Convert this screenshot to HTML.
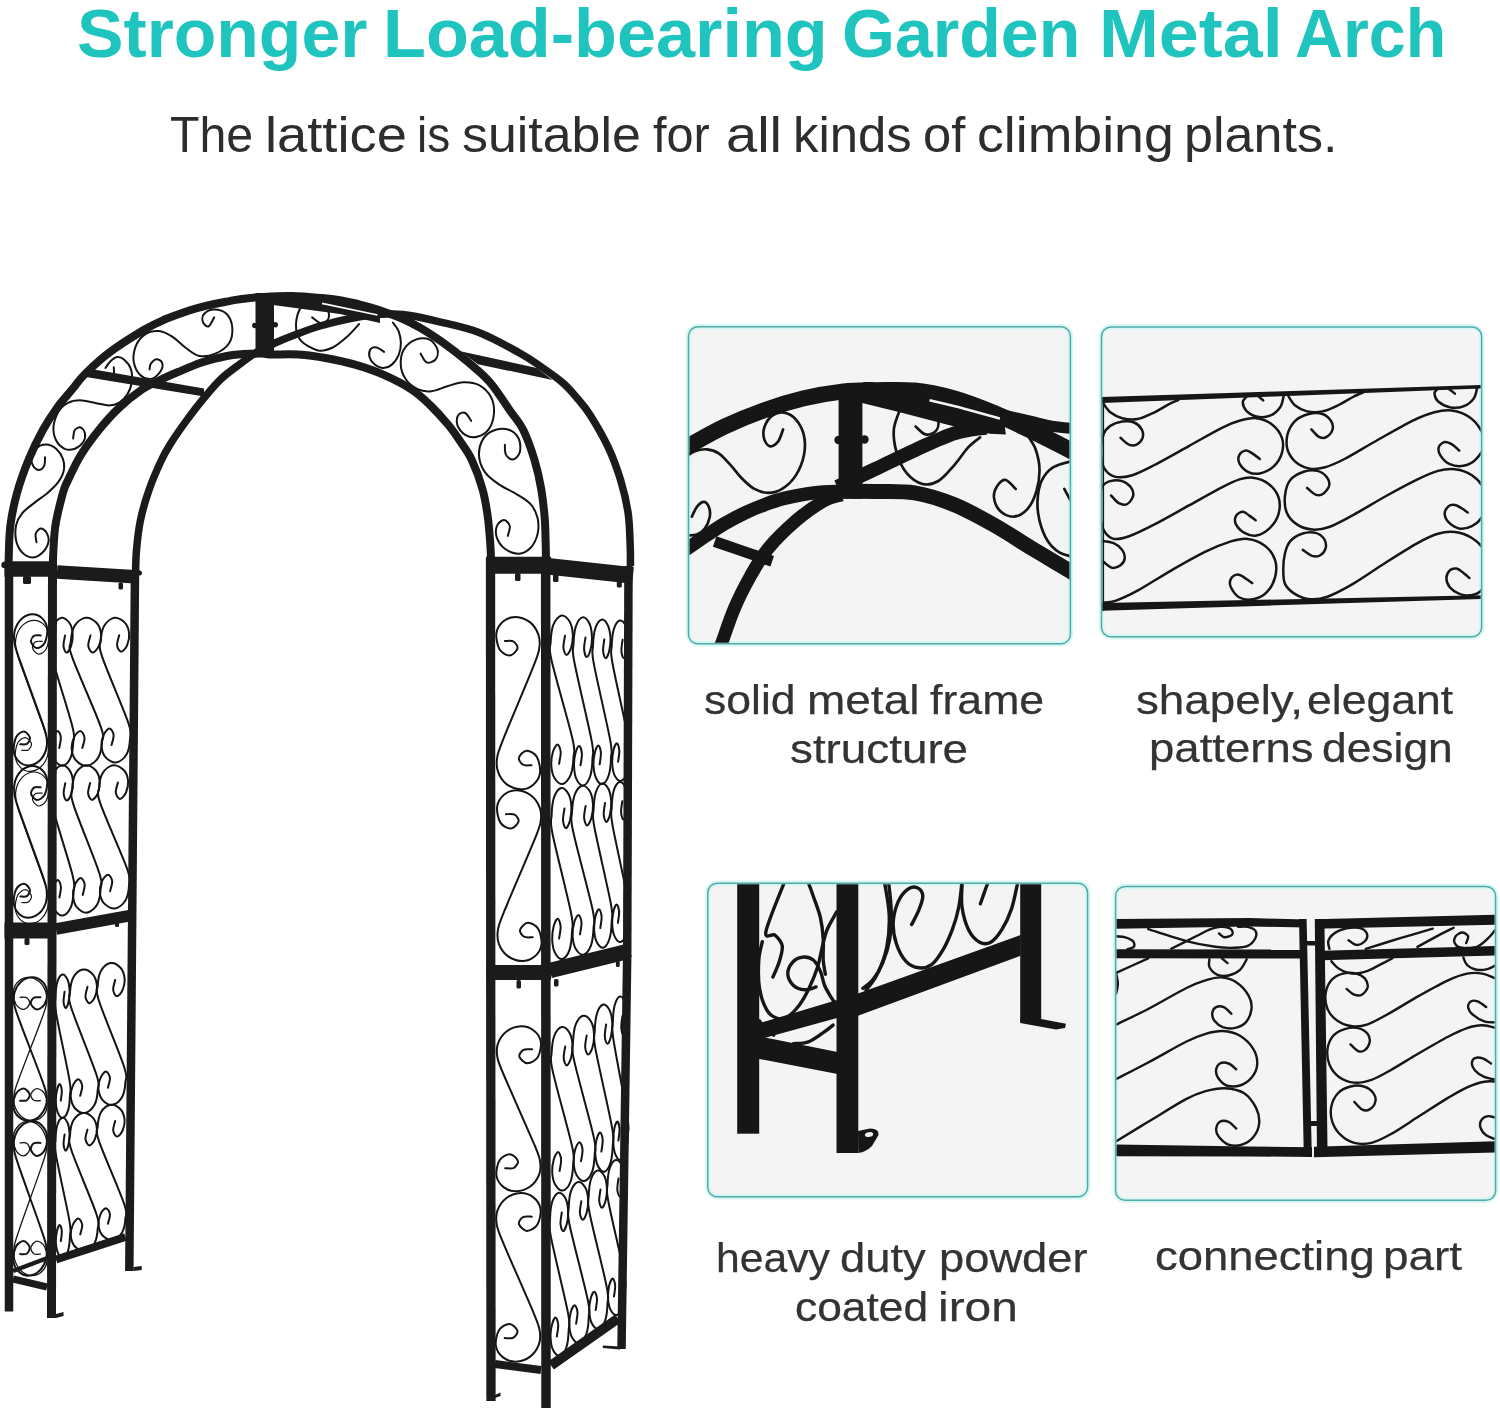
<!DOCTYPE html>
<html><head><meta charset="utf-8"><title>Garden Metal Arch</title>
<style>
html,body{margin:0;padding:0;background:#fff;}
body{width:1500px;height:1412px;position:relative;overflow:hidden;font-family:"Liberation Sans",sans-serif;}
.t{position:absolute;left:0;width:1500px;height:1em;white-space:nowrap;line-height:1;}
.t span{position:absolute;top:0;display:block;transform-origin:0 0;white-space:nowrap;}
svg{position:absolute;left:0;top:0;filter:blur(0.4px);}
</style></head><body>
<svg width="1500" height="1412" viewBox="0 0 1500 1412">
<g id="panels">
<defs><clipPath id="cp0"><rect x="689.5" y="327.8" width="379.9" height="315.0" rx="9"/></clipPath><clipPath id="cp1"><rect x="1102.5" y="328.0" width="378.1" height="307.8" rx="9"/></clipPath><clipPath id="cp2"><rect x="708.8" y="884.2" width="377.8" height="311.6" rx="9"/></clipPath><clipPath id="cp3"><rect x="1116.6" y="887.5" width="378.0" height="311.7" rx="9"/></clipPath></defs>
<rect x="688.5" y="326.8" width="381.9" height="317.0" rx="9.5" fill="#f4f4f4" stroke="#d6f7f5" stroke-width="5.5"/><rect x="688.5" y="326.8" width="381.9" height="317.0" rx="9.5" fill="none" stroke="#52aaa5" stroke-width="1.5"/><g clip-path="url(#cp0)"><path d="M716.7 655.4C717.5 653.4 718.7 651.1 721.7 643.1C724.6 635.2 729.8 619.0 734.6 607.9C739.3 596.7 744.8 586.1 750.4 576.1C756.0 566.2 760.7 557.6 768.3 548.4C775.8 539.1 786.8 528.6 796.0 520.6C805.3 512.7 816.2 505.1 823.8 500.8C831.3 496.5 838.6 495.9 841.6 494.9" fill="none" stroke="#161616" stroke-width="13.00" stroke-linecap="butt" stroke-linejoin="round" />
<path d="M837.3 486.9C843.6 484.0 862.1 475.2 875.0 469.1C887.9 463.0 901.4 456.2 914.6 450.3C927.9 444.3 942.4 437.2 954.3 433.4C966.2 429.6 980.7 428.5 986.0 427.5" fill="none" stroke="#161616" stroke-width="14.00" stroke-linecap="butt" stroke-linejoin="round" />
<path d="M673.1 455.2C675.7 453.6 680.4 450.5 689.0 445.7C697.6 440.9 712.1 432.4 724.6 426.5C737.2 420.6 751.1 414.9 764.3 410.2C777.5 405.5 790.7 401.5 803.9 398.3C817.1 395.2 832.0 392.8 843.6 391.4C855.1 390.1 868.3 390.4 873.3 390.2" fill="none" stroke="#161616" stroke-width="16.00" stroke-linecap="butt" stroke-linejoin="round" />
<path d="M863.1 390.2C865.1 390.3 866.4 390.3 875.0 390.4C883.6 390.5 901.4 389.4 914.6 390.8C927.9 392.2 941.1 395.0 954.3 398.7C967.5 402.5 980.7 407.7 993.9 413.2C1007.1 418.7 1020.9 425.7 1033.6 431.8C1046.3 438.0 1061.7 445.7 1070.2 450.3C1078.8 454.8 1082.6 457.7 1085.1 459.2" fill="none" stroke="#161616" stroke-width="16.50" stroke-linecap="butt" stroke-linejoin="round" />
<path d="M1001.9 414.6C1007.1 415.8 1025.0 420.0 1033.6 421.9C1042.2 423.9 1044.8 425.2 1053.4 426.5C1062.0 427.7 1079.8 429.0 1085.1 429.5" fill="none" stroke="#161616" stroke-width="11.00" stroke-linecap="butt" stroke-linejoin="round" />
<polygon points="861.1,391.8 928.5,396.8 1003.8,417.6 1005.8,434.4 990.0,433.8 960.2,427.9 898.8,412.0 861.1,402.7" fill="#161616"/>
<path d="M929.5 400.3C935.3 401.7 952.5 405.6 964.2 408.7C975.9 411.7 993.9 416.9 999.9 418.6" fill="none" stroke="#f4f4f4" stroke-width="2.60" stroke-linecap="butt" stroke-linejoin="round" />
<path d="M673.1 557.3C675.7 555.7 683.7 550.9 689.0 547.4C694.3 543.9 698.9 540.5 704.8 536.5C710.8 532.5 718.0 527.5 724.6 523.6C731.3 519.7 737.9 516.3 744.5 513.1C751.1 510.0 757.7 507.2 764.3 504.8C770.9 502.3 775.8 500.4 784.1 498.4C792.4 496.5 804.6 494.1 813.8 492.9C823.1 491.7 831.3 491.6 839.6 491.3C847.9 491.0 859.4 491.0 863.4 490.9" fill="none" stroke="#161616" stroke-width="13.50" stroke-linecap="butt" stroke-linejoin="round" />
<path d="M851.2 491.3C855.2 491.3 864.4 491.2 875.0 491.5C885.6 491.8 901.4 490.7 914.6 492.9C927.9 495.1 941.1 499.4 954.3 504.8C967.5 510.1 980.7 517.6 993.9 525.0C1007.1 532.4 1020.9 541.7 1033.6 549.4C1046.3 557.1 1061.7 565.9 1070.2 571.2C1078.8 576.5 1082.6 579.4 1085.1 581.1" fill="none" stroke="#161616" stroke-width="15.00" stroke-linecap="butt" stroke-linejoin="round" />
<path d="M714.7 541.5C724.3 544.8 762.6 558.0 772.2 561.3" fill="none" stroke="#161616" stroke-width="11.00" stroke-linecap="butt" stroke-linejoin="round" />
<rect x="838.6" y="385.9" width="23.8" height="113.0" fill="#161616"/>
<circle cx="838.5" cy="440" r="4.2" fill="#161616"/><circle cx="864.5" cy="439.5" r="4.2" fill="#161616"/>
<path d="M783.1 429.5C782.3 431.4 780.3 438.5 778.2 441.4C776.0 444.2 772.5 446.6 770.2 446.3C767.9 446.0 765.3 442.5 764.3 439.4C763.3 436.2 763.0 431.4 764.3 427.5C765.6 423.5 768.9 418.1 772.2 415.6C775.5 413.1 780.1 412.0 784.1 412.6C788.1 413.3 792.7 415.8 796.0 419.6C799.3 423.4 802.6 429.5 803.9 435.4C805.3 441.4 805.3 448.6 803.9 455.2C802.6 461.8 799.6 469.4 796.0 475.1C792.4 480.7 786.8 486.0 782.1 488.9C777.5 491.9 772.9 492.9 768.3 492.9C763.6 492.9 758.7 491.2 754.4 488.9C750.1 486.6 746.4 483.0 742.5 479.0C738.5 475.1 734.6 469.4 730.6 465.1C726.6 460.8 722.7 455.9 718.7 453.3C714.7 450.6 710.8 449.6 706.8 449.3C702.8 449.0 698.5 449.9 694.9 451.3C691.3 452.6 686.7 456.2 685.0 457.2" fill="none" stroke="#161616" stroke-width="2.70" stroke-linecap="round" stroke-linejoin="round" />
<path d="M691.9 516.7C692.8 515.0 694.9 509.2 696.9 506.8C698.9 504.3 701.8 501.8 703.8 501.8C705.8 501.8 707.8 504.3 708.8 506.8C709.8 509.2 710.4 513.0 709.8 516.7C709.1 520.3 707.0 525.6 704.8 528.6C702.7 531.5 700.2 533.4 696.9 534.5C693.6 535.7 687.0 535.3 685.0 535.5" fill="none" stroke="#161616" stroke-width="2.70" stroke-linecap="round" stroke-linejoin="round" />
<path d="M915.6 426.5C917.3 427.8 922.2 433.6 925.5 434.4C928.8 435.2 933.3 433.6 935.5 431.4C937.6 429.3 938.9 424.7 938.4 421.5C937.9 418.4 933.5 414.1 932.5 412.6" fill="none" stroke="#161616" stroke-width="2.70" stroke-linecap="round" stroke-linejoin="round" />
<path d="M900.8 407.7C899.6 411.3 894.5 421.9 893.8 429.5C893.2 437.1 894.7 446.0 896.8 453.3C899.0 460.5 902.4 468.0 906.7 473.1C911.0 478.2 917.3 482.7 922.6 484.0C927.9 485.3 933.1 484.1 938.4 481.0C943.7 477.9 949.3 470.8 954.3 465.1C959.2 459.5 963.9 451.9 968.2 447.3C972.5 442.7 978.1 439.0 980.1 437.4" fill="none" stroke="#161616" stroke-width="2.70" stroke-linecap="round" stroke-linejoin="round" />
<path d="M1015.7 488.9C1014.1 487.4 1008.8 480.7 1005.8 480.0C1002.8 479.3 999.9 482.2 997.9 485.0C995.9 487.8 993.6 492.6 993.9 496.9C994.3 501.2 996.6 507.4 999.9 510.7C1003.2 514.0 1009.1 517.0 1013.8 516.7C1018.4 516.3 1023.8 513.0 1027.6 508.8C1031.4 504.5 1034.6 497.5 1036.5 490.9C1038.5 484.3 1039.7 476.0 1039.5 469.1C1039.4 462.2 1037.5 454.9 1035.6 449.3C1033.6 443.7 1028.9 437.7 1027.6 435.4" fill="none" stroke="#161616" stroke-width="2.70" stroke-linecap="round" stroke-linejoin="round" />
<path d="M1075.2 460.2C1071.6 461.3 1059.0 463.7 1053.4 467.1C1047.8 470.6 1044.1 475.4 1041.5 481.0C1038.9 486.6 1037.9 494.2 1037.5 500.8C1037.2 507.4 1037.9 514.0 1039.5 520.6C1041.2 527.3 1044.1 535.2 1047.4 540.5C1050.8 545.8 1054.7 549.6 1059.3 552.4C1064.0 555.2 1072.6 556.5 1075.2 557.3" fill="none" stroke="#161616" stroke-width="2.70" stroke-linecap="round" stroke-linejoin="round" />
<path d="M1064.3 488.9C1065.5 491.1 1070.1 499.7 1071.2 501.8" fill="none" stroke="#161616" stroke-width="2.70" stroke-linecap="round" stroke-linejoin="round" /></g>
<rect x="1101.5" y="327.0" width="380.1" height="309.8" rx="9.5" fill="#f4f4f4" stroke="#d6f7f5" stroke-width="5.5"/><rect x="1101.5" y="327.0" width="380.1" height="309.8" rx="9.5" fill="none" stroke="#52aaa5" stroke-width="1.5"/><g clip-path="url(#cp1)"><polygon points="1102.0,397.1 1482.0,384.9 1482.0,388.5 1102.0,403.1" fill="#161616"/>
<polygon points="1102.0,603.0 1482.0,595.3 1482.0,598.9 1102.0,610.8" fill="#161616"/>
<line x1="1103.2" y1="397.0" x2="1103.2" y2="611.0" stroke="#161616" stroke-width="1.80" stroke-linecap="butt"/>
<path d="M1103.5 403.8C1104.6 405.2 1107.2 409.9 1110.3 412.3C1113.4 414.7 1117.7 417.1 1122.2 418.2C1126.7 419.4 1132.1 420.1 1137.5 419.1C1142.9 418.1 1149.4 414.7 1154.5 412.3C1159.6 409.9 1164.1 406.7 1168.1 404.6C1172.0 402.6 1176.6 400.8 1178.3 400.1" fill="none" stroke="#161616" stroke-width="2.50" stroke-linecap="round" stroke-linejoin="round" />
<path d="M1283.6 396.1C1283.0 398.0 1282.5 403.9 1280.2 407.2C1278.0 410.4 1274.0 414.1 1270.0 415.7C1266.1 417.2 1260.4 417.4 1256.4 416.5C1252.5 415.7 1248.5 413.0 1246.2 410.6C1244.0 408.2 1242.8 404.4 1242.8 402.1C1242.8 399.8 1245.7 397.8 1246.2 397.0" fill="none" stroke="#161616" stroke-width="2.50" stroke-linecap="round" stroke-linejoin="round" />
<path d="M1258.1 396.1C1259.0 396.9 1262.4 399.7 1263.2 400.4" fill="none" stroke="#161616" stroke-width="2.50" stroke-linecap="round" stroke-linejoin="round" />
<path d="M1120.5 437.8C1121.9 438.9 1126.3 443.4 1129.0 444.6C1131.7 445.7 1134.4 445.7 1136.6 444.6C1138.9 443.4 1141.7 440.3 1142.6 437.8C1143.4 435.2 1143.1 431.8 1141.7 429.3C1140.3 426.7 1137.3 423.8 1134.1 422.5C1130.8 421.2 1126.2 421.1 1122.2 421.6C1118.2 422.2 1113.4 423.8 1110.3 425.9C1107.2 428.0 1105.1 430.1 1103.5 434.4C1101.9 438.6 1100.8 445.7 1100.9 451.4C1101.1 457.0 1101.9 464.1 1104.3 468.4C1106.8 472.6 1110.7 475.7 1115.4 476.9C1120.1 478.0 1125.9 477.1 1132.4 475.2C1138.9 473.2 1145.1 469.8 1154.5 465.0C1163.8 460.1 1177.1 452.5 1188.5 446.3C1199.8 440.0 1213.9 431.8 1222.4 427.6C1230.9 423.3 1233.8 422.3 1239.4 420.8C1245.1 419.2 1251.0 417.7 1256.4 418.2C1261.8 418.8 1267.5 420.9 1271.7 424.2C1276.0 427.4 1280.2 433.0 1281.9 437.8C1283.6 442.6 1283.3 448.3 1281.9 453.1C1280.5 457.9 1277.1 463.3 1273.4 466.7C1269.7 470.1 1264.1 472.6 1259.8 473.5C1255.6 474.3 1251.3 473.5 1247.9 471.8C1244.5 470.1 1240.9 466.1 1239.4 463.3C1238.0 460.4 1238.3 456.9 1239.4 454.8C1240.6 452.6 1244.0 450.7 1246.2 450.5C1248.5 450.4 1250.8 452.5 1253.0 453.9C1255.3 455.3 1258.7 458.2 1259.8 459.0" fill="none" stroke="#161616" stroke-width="2.50" stroke-linecap="round" stroke-linejoin="round" />
<path d="M1111.1 495.5C1112.4 496.8 1116.1 501.8 1118.8 503.2C1121.5 504.6 1124.9 505.3 1127.3 504.0C1129.7 502.8 1132.7 498.4 1133.2 495.5C1133.8 492.7 1132.5 489.5 1130.7 487.1C1128.8 484.6 1125.6 482.1 1122.2 481.1C1118.8 480.1 1113.5 480.3 1110.3 481.1C1107.0 482.0 1104.5 483.2 1102.6 486.2C1100.8 489.2 1099.7 494.0 1099.2 498.9C1098.8 503.9 1099.2 510.6 1100.1 515.9C1100.9 521.3 1102.1 527.4 1104.3 531.2C1106.6 535.1 1109.6 538.0 1113.7 538.9C1117.8 539.7 1122.2 538.7 1129.0 536.3C1135.8 533.9 1144.6 529.5 1154.5 524.4C1164.4 519.3 1177.1 512.0 1188.5 505.7C1199.8 499.5 1213.9 491.4 1222.4 487.1C1230.9 482.7 1234.3 481.0 1239.4 479.4C1244.5 477.8 1248.2 477.0 1253.0 477.7C1257.8 478.4 1264.1 480.4 1268.3 483.7C1272.6 486.9 1276.8 492.1 1278.5 497.2C1280.2 502.3 1279.9 509.1 1278.5 514.2C1277.1 519.3 1273.7 524.3 1270.0 527.8C1266.3 531.4 1260.7 534.6 1256.4 535.5C1252.2 536.3 1247.9 534.8 1244.5 532.9C1241.1 531.1 1237.5 527.3 1236.0 524.4C1234.6 521.6 1234.9 518.1 1236.0 515.9C1237.2 513.8 1240.6 511.7 1242.8 511.7C1245.1 511.7 1247.5 514.5 1249.6 515.9C1251.8 517.4 1254.6 519.5 1255.6 520.2" fill="none" stroke="#161616" stroke-width="2.50" stroke-linecap="round" stroke-linejoin="round" />
<path d="M1100.1 540.6C1102.4 541.0 1110.0 541.6 1113.7 543.1C1117.4 544.7 1120.3 547.4 1122.2 549.9C1124.0 552.5 1125.0 555.9 1124.7 558.4C1124.5 561.0 1122.6 563.7 1120.5 565.2C1118.4 566.8 1114.8 568.3 1112.0 567.8C1109.2 567.2 1104.9 562.8 1103.5 561.8" fill="none" stroke="#161616" stroke-width="2.50" stroke-linecap="round" stroke-linejoin="round" />
<path d="M1103.5 602.6C1105.5 602.3 1109.7 602.9 1115.4 600.9C1121.1 598.9 1128.1 595.8 1137.5 590.7C1146.8 585.6 1160.1 576.8 1171.5 570.3C1182.8 563.8 1195.5 556.4 1205.5 551.6C1215.4 546.8 1223.9 543.6 1230.9 541.4C1238.0 539.3 1242.3 538.2 1247.9 538.9C1253.6 539.6 1260.4 542.1 1264.9 545.7C1269.5 549.2 1273.4 554.9 1275.1 560.1C1276.8 565.4 1276.5 571.7 1275.1 577.1C1273.7 582.5 1270.3 588.7 1266.6 592.4C1262.9 596.1 1257.6 598.4 1253.0 599.2C1248.5 600.1 1243.1 599.5 1239.4 597.5C1235.8 595.5 1232.4 590.4 1230.9 587.3C1229.5 584.2 1229.8 580.9 1230.9 578.8C1232.1 576.7 1235.2 574.6 1237.7 574.6C1240.3 574.6 1243.8 577.4 1246.2 578.8C1248.6 580.2 1251.2 582.4 1252.2 583.1" fill="none" stroke="#161616" stroke-width="2.50" stroke-linecap="round" stroke-linejoin="round" />
<path d="M1288.4 396.1C1289.5 397.7 1292.1 402.9 1295.2 405.5C1298.3 408.0 1302.6 410.4 1307.1 411.4C1311.6 412.4 1317.0 412.6 1322.4 411.4C1327.8 410.3 1334.3 407.0 1339.4 404.6C1344.5 402.2 1348.7 399.2 1353.0 397.0C1357.2 394.8 1362.9 392.5 1364.9 391.6" fill="none" stroke="#161616" stroke-width="2.50" stroke-linecap="round" stroke-linejoin="round" />
<path d="M1477.0 388.5C1476.4 390.2 1475.9 395.7 1473.6 398.7C1471.3 401.7 1467.4 404.9 1463.4 406.3C1459.5 407.8 1454.1 408.0 1449.8 407.2C1445.6 406.3 1440.5 403.5 1437.9 401.2C1435.4 399.0 1434.7 395.6 1434.5 393.6C1434.4 391.6 1436.7 390.1 1437.1 389.3" fill="none" stroke="#161616" stroke-width="2.50" stroke-linecap="round" stroke-linejoin="round" />
<path d="M1448.1 388.5C1449.3 389.3 1453.8 392.7 1454.9 393.6" fill="none" stroke="#161616" stroke-width="2.50" stroke-linecap="round" stroke-linejoin="round" />
<path d="M1311.3 429.3C1312.6 430.6 1316.4 435.6 1319.0 436.9C1321.5 438.2 1324.4 438.2 1326.6 436.9C1328.9 435.6 1331.9 432.0 1332.6 429.3C1333.3 426.6 1332.6 423.3 1330.9 420.8C1329.2 418.2 1326.1 415.1 1322.4 414.0C1318.7 412.9 1313.3 412.9 1308.8 414.0C1304.3 415.1 1298.7 417.4 1295.2 420.8C1291.7 424.2 1288.8 429.6 1287.5 434.4C1286.3 439.2 1286.3 445.1 1287.5 449.7C1288.8 454.2 1291.7 458.4 1295.2 461.6C1298.7 464.7 1304.0 467.4 1308.8 468.4C1313.6 469.4 1318.1 469.1 1324.1 467.5C1330.0 466.0 1335.4 463.7 1344.5 459.0C1353.5 454.3 1367.1 445.8 1378.5 439.5C1389.8 433.1 1403.1 425.3 1412.4 420.8C1421.8 416.3 1428.0 414.0 1434.5 412.3C1441.0 410.6 1445.9 409.9 1451.5 410.6C1457.2 411.3 1463.7 413.4 1468.5 416.5C1473.3 419.6 1477.7 424.6 1480.4 429.3C1483.1 434.0 1485.5 439.5 1484.7 444.6C1483.8 449.7 1478.9 456.3 1475.3 459.9C1471.8 463.4 1467.7 465.1 1463.4 465.8C1459.2 466.5 1453.6 465.8 1449.8 464.1C1446.0 462.4 1442.3 458.4 1440.5 455.6C1438.6 452.8 1438.1 449.4 1438.8 447.1C1439.5 444.9 1442.5 442.4 1444.7 442.0C1447.0 441.6 1450.0 443.2 1452.4 444.6C1454.8 446.0 1458.0 449.5 1459.2 450.5" fill="none" stroke="#161616" stroke-width="2.50" stroke-linecap="round" stroke-linejoin="round" />
<path d="M1307.1 487.9C1308.5 489.0 1312.9 493.7 1315.6 494.7C1318.3 495.7 1321.0 495.4 1323.2 493.8C1325.5 492.3 1328.6 488.2 1329.2 485.4C1329.7 482.5 1328.6 479.3 1326.6 476.9C1324.6 474.4 1321.1 471.8 1317.3 470.9C1313.5 470.1 1308.2 470.2 1303.7 471.8C1299.2 473.3 1293.2 476.3 1290.1 480.3C1287.0 484.2 1285.6 490.2 1285.0 495.5C1284.4 500.9 1284.7 507.7 1286.7 512.5C1288.7 517.4 1292.6 521.6 1296.9 524.4C1301.1 527.3 1306.8 529.1 1312.2 529.5C1317.6 530.0 1322.4 529.4 1329.2 527.0C1336.0 524.6 1343.3 520.3 1353.0 515.1C1362.6 509.8 1376.2 501.5 1387.0 495.5C1397.7 489.6 1409.0 483.5 1417.5 479.4C1426.0 475.3 1431.7 472.6 1437.9 470.9C1444.2 469.2 1449.3 468.5 1454.9 469.2C1460.6 469.9 1467.1 471.9 1471.9 475.2C1476.7 478.4 1481.5 483.7 1483.8 488.8C1486.1 493.8 1486.1 500.6 1485.5 505.7C1484.9 510.8 1482.7 515.9 1480.4 519.3C1478.1 522.7 1475.3 524.6 1471.9 526.1C1468.5 527.7 1463.8 529.2 1460.0 528.7C1456.2 528.1 1451.5 525.1 1449.0 522.7C1446.4 520.3 1444.9 516.9 1444.7 514.2C1444.6 511.5 1446.4 508.2 1448.1 506.6C1449.8 505.0 1452.7 504.6 1454.9 504.9C1457.2 505.2 1459.6 507.0 1461.7 508.3C1463.8 509.6 1466.7 511.8 1467.7 512.5" fill="none" stroke="#161616" stroke-width="2.50" stroke-linecap="round" stroke-linejoin="round" />
<path d="M1302.8 549.9C1304.4 550.9 1309.2 555.0 1312.2 555.9C1315.2 556.7 1318.4 556.4 1320.7 555.0C1322.9 553.6 1325.2 550.1 1325.8 547.4C1326.3 544.7 1325.8 541.3 1324.1 538.9C1322.4 536.5 1319.3 533.8 1315.6 532.9C1311.9 532.1 1306.2 532.4 1302.0 533.8C1297.7 535.2 1292.9 538.2 1290.1 541.4C1287.3 544.7 1286.1 548.8 1285.0 553.3C1283.9 557.9 1283.3 563.5 1283.3 568.6C1283.3 573.7 1283.0 579.7 1285.0 583.9C1287.0 588.2 1290.9 591.6 1295.2 594.1C1299.4 596.7 1305.1 598.8 1310.5 599.2C1315.9 599.6 1320.4 599.2 1327.5 596.7C1334.6 594.1 1343.1 589.7 1353.0 583.9C1362.9 578.1 1376.2 568.6 1387.0 561.8C1397.7 555.0 1409.0 547.8 1417.5 543.1C1426.0 538.5 1431.7 535.6 1437.9 533.8C1444.2 531.9 1449.3 531.4 1454.9 532.1C1460.6 532.8 1467.1 535.1 1471.9 538.0C1476.7 541.0 1481.3 545.1 1483.8 549.9C1486.4 554.7 1487.5 560.4 1487.2 566.9C1486.9 573.4 1484.7 584.3 1482.1 589.0C1479.6 593.7 1475.6 594.1 1471.9 595.0C1468.2 595.8 1463.7 595.4 1460.0 594.1C1456.3 592.8 1452.1 590.0 1449.8 587.3C1447.6 584.6 1446.4 580.8 1446.4 578.0C1446.4 575.1 1448.1 571.9 1449.8 570.3C1451.5 568.8 1454.4 568.2 1456.6 568.6C1458.9 569.0 1461.3 571.3 1463.4 572.9C1465.5 574.4 1468.4 577.1 1469.4 578.0" fill="none" stroke="#161616" stroke-width="2.50" stroke-linecap="round" stroke-linejoin="round" /></g>
<rect x="707.8" y="883.2" width="379.8" height="313.6" rx="9.5" fill="#f4f4f4" stroke="#d6f7f5" stroke-width="5.5"/><rect x="707.8" y="883.2" width="379.8" height="313.6" rx="9.5" fill="none" stroke="#52aaa5" stroke-width="1.5"/><g clip-path="url(#cp2)"><path d="M785.0 880.7C781.8 889.2 767.5 922.6 765.9 931.7C764.2 940.7 772.4 932.8 775.1 935.2C777.8 937.6 781.4 941.5 782.2 945.8C782.9 950.2 780.9 956.2 779.3 961.4C777.8 966.6 774.0 974.4 772.9 977.0" fill="none" stroke="#161616" stroke-width="3.40" stroke-linecap="round" stroke-linejoin="round" />
<path d="M762.3 941.6C761.7 944.6 759.3 952.2 758.8 960.0C758.3 967.8 758.2 980.1 759.5 988.3C760.8 996.6 763.7 1004.6 766.6 1009.6C769.4 1014.5 772.9 1016.9 776.5 1018.1C780.0 1019.2 784.0 1018.8 787.8 1016.6C791.6 1014.5 795.6 1010.0 799.2 1005.3C802.7 1000.6 806.0 994.7 809.1 988.3C812.1 981.9 815.2 974.6 817.6 967.1C819.9 959.5 821.6 949.4 823.2 943.0C824.9 936.6 825.2 934.0 827.5 928.8C829.7 923.6 835.2 914.7 836.7 911.8" fill="none" stroke="#161616" stroke-width="3.40" stroke-linecap="round" stroke-linejoin="round" />
<path d="M816.1 986.9C814.3 987.4 808.6 990.0 804.8 989.7C801.0 989.5 796.3 988.1 793.5 985.5C790.7 982.9 788.1 977.9 787.8 974.2C787.6 970.4 789.7 965.7 792.1 962.8C794.4 960.0 798.4 957.6 802.0 957.2C805.5 956.7 810.2 957.6 813.3 960.0C816.4 962.3 818.5 967.1 820.4 971.3C822.3 975.6 822.8 981.0 824.6 985.5C826.5 990.0 829.6 994.7 831.7 998.2C833.9 1001.8 836.4 1005.3 837.4 1006.7" fill="none" stroke="#161616" stroke-width="3.40" stroke-linecap="round" stroke-linejoin="round" />
<path d="M807.6 880.7C808.6 883.3 811.2 890.1 813.3 896.2C815.4 902.4 818.7 910.4 820.4 917.5C822.0 924.6 822.8 931.7 823.2 938.7C823.7 945.8 822.9 954.1 823.2 960.0C823.6 965.9 825.0 971.8 825.4 974.2" fill="none" stroke="#161616" stroke-width="3.40" stroke-linecap="round" stroke-linejoin="round" />
<path d="M759.5 1020.9C760.7 1022.5 764.2 1028.4 766.6 1030.8C768.9 1033.2 772.5 1034.3 773.7 1035.1" fill="none" stroke="#161616" stroke-width="3.40" stroke-linecap="round" stroke-linejoin="round" />
<path d="M793.5 1043.6C795.8 1043.3 802.9 1043.8 807.6 1042.1C812.4 1040.5 817.6 1036.5 821.8 1033.6C826.1 1030.8 831.3 1026.6 833.1 1025.1" fill="none" stroke="#161616" stroke-width="3.40" stroke-linecap="round" stroke-linejoin="round" />
<path d="M888.4 880.7C888.9 885.6 891.0 900.7 891.2 910.4C891.5 920.1 891.2 930.0 889.8 938.7C888.4 947.5 885.6 956.0 882.7 962.8C879.9 969.7 876.1 975.6 872.8 979.8C869.5 984.1 864.5 986.9 862.9 988.3" fill="none" stroke="#161616" stroke-width="3.40" stroke-linecap="round" stroke-linejoin="round" />
<path d="M884.4 881.4C885.2 887.0 888.8 904.1 889.2 915.0C889.6 925.9 888.8 937.1 886.8 947.0C884.8 956.9 880.7 967.0 877.2 974.2C873.7 981.4 867.9 987.5 866.0 990.2" fill="none" stroke="#161616" stroke-width="3.40" stroke-linecap="round" stroke-linejoin="round" />
<path d="M911.6 924.6C912.8 922.2 916.9 915.0 918.8 910.2C920.7 905.4 923.1 899.5 922.8 895.8C922.5 892.1 919.7 888.9 917.2 887.8C914.7 886.7 910.8 887.0 907.6 889.4C904.4 891.8 900.4 896.6 898.0 902.2C895.6 907.8 893.5 916.1 893.2 923.0C892.9 929.9 894.3 937.4 896.4 943.8C898.5 950.2 902.3 957.4 906.0 961.4C909.7 965.4 914.5 967.3 918.8 967.8C923.1 968.3 927.6 967.5 931.6 964.6C935.6 961.7 939.3 956.1 942.8 950.2C946.3 944.3 949.7 936.6 952.4 929.4C955.1 922.2 957.2 915.0 958.8 907.0C960.4 899.0 961.5 885.7 962.0 881.4" fill="none" stroke="#161616" stroke-width="3.40" stroke-linecap="round" stroke-linejoin="round" />
<path d="M980.4 903.8C981.3 901.1 984.7 891.5 986.0 887.8C987.3 884.1 988.0 882.5 988.4 881.4" fill="none" stroke="#161616" stroke-width="3.40" stroke-linecap="round" stroke-linejoin="round" />
<path d="M962.0 884.9C962.0 888.6 960.9 899.6 962.0 907.0C963.1 914.4 965.5 923.5 968.4 929.4C971.3 935.3 975.9 940.1 979.6 942.2C983.3 944.3 987.1 944.3 990.8 942.2C994.5 940.1 998.5 935.0 1002.0 929.4C1005.5 923.8 1008.9 916.6 1011.6 908.6C1014.3 900.6 1016.9 885.9 1018.0 881.4" fill="none" stroke="#161616" stroke-width="3.40" stroke-linecap="round" stroke-linejoin="round" />
<polygon points="757.0,1024.0 837.0,1000.0 837.0,1018.0 757.0,1040.0" fill="#161616"/>
<polygon points="757.0,1036.0 837.5,1052.0 837.5,1074.0 757.0,1058.5" fill="#161616"/>
<polygon points="858.0,993.4 1020.6,935.0 1020.6,955.8 858.0,1015.8" fill="#161616"/>
<rect x="737.2" y="870" width="22" height="263.7" fill="#161616"/>
<rect x="836.5" y="870" width="21.8" height="283" fill="#161616"/>
<rect x="1020.2" y="870" width="21" height="151" fill="#161616"/>
<polygon points="1020.2,1019.0 1041.2,1019.0 1066.0,1023.8 1065.0,1028.0 1056.0,1029.6 1020.2,1023.0" fill="#161616"/>
<path d="M858 1131 L870 1128.5 Q879.5 1128.5 878.5 1135 L872 1146 Q866 1152 858.3 1153 Z" fill="#161616"/>
<ellipse cx="869" cy="1134.5" rx="4.2" ry="2.4" fill="#f4f4f4" transform="rotate(-12 869 1134.5)"/></g>
<rect x="1115.6" y="886.5" width="380.0" height="313.7" rx="9.5" fill="#f4f4f4" stroke="#d6f7f5" stroke-width="5.5"/><rect x="1115.6" y="886.5" width="380.0" height="313.7" rx="9.5" fill="none" stroke="#52aaa5" stroke-width="1.5"/><g clip-path="url(#cp3)"><polygon points="1116.0,919.0 1250.0,918.0 1306.0,919.5 1306.0,927.5 1250.0,926.5 1116.0,928.7" fill="#161616"/>
<polygon points="1116.0,949.3 1302.0,949.5 1302.0,958.5 1116.0,958.3" fill="#161616"/>
<polygon points="1116.0,1144.4 1250.0,1146.5 1312.0,1147.2 1312.0,1157.0 1250.0,1156.4 1116.0,1156.2" fill="#161616"/>
<polygon points="1315.0,919.2 1496.0,914.8 1496.0,924.8 1315.0,928.7" fill="#161616"/>
<polygon points="1322.0,950.7 1496.0,945.9 1496.0,955.4 1322.0,960.2" fill="#161616"/>
<polygon points="1314.0,1146.7 1496.0,1141.3 1496.0,1152.4 1314.0,1157.2" fill="#161616"/>
<polygon points="1299.0,919.0 1306.6,919.0 1311.8,1155.0 1303.8,1155.0" fill="#161616"/>
<polygon points="1314.8,919.0 1324.4,919.0 1327.6,1155.0 1317.0,1155.0" fill="#161616"/>
<line x1="1306.0" y1="943.2" x2="1316.0" y2="943.2" stroke="#161616" stroke-width="4.50" stroke-linecap="butt"/>
<line x1="1309.0" y1="1123.5" x2="1318.0" y2="1123.5" stroke="#161616" stroke-width="5.00" stroke-linecap="butt"/>
<path d="M1116.7 972.7C1122.0 970.3 1143.0 960.7 1148.2 958.3" fill="none" stroke="#161616" stroke-width="2.40" stroke-linecap="round" stroke-linejoin="round" />
<path d="M1209.4 959.3C1209.4 960.5 1208.2 964.4 1209.4 966.9C1210.7 969.5 1213.9 973.1 1217.1 974.6C1220.3 976.0 1224.7 976.3 1228.5 975.5C1232.4 974.7 1237.0 972.5 1240.0 969.8C1243.0 967.1 1245.6 961.0 1246.7 959.3" fill="none" stroke="#161616" stroke-width="2.40" stroke-linecap="round" stroke-linejoin="round" />
<path d="M1221.9 958.3C1222.8 959.1 1226.6 962.3 1227.6 963.1" fill="none" stroke="#161616" stroke-width="2.40" stroke-linecap="round" stroke-linejoin="round" />
<path d="M1110.0 1027.7C1111.1 1027.2 1110.3 1027.4 1116.7 1024.3C1123.1 1021.2 1136.6 1015.0 1148.2 1009.0C1159.9 1002.9 1176.9 992.7 1186.5 988.0C1196.0 983.2 1199.9 982.1 1205.6 980.3C1211.3 978.6 1215.8 977.1 1220.9 977.4C1226.0 977.8 1231.6 979.2 1236.2 982.2C1240.8 985.2 1246.1 991.1 1248.6 995.6C1251.2 1000.1 1252.0 1004.5 1251.5 1009.0C1251.0 1013.4 1248.6 1019.2 1245.8 1022.4C1242.9 1025.6 1238.1 1027.3 1234.3 1028.1C1230.5 1028.9 1226.2 1028.4 1222.8 1027.2C1219.5 1025.9 1216.0 1022.8 1214.2 1020.5C1212.5 1018.1 1212.0 1015.0 1212.3 1012.8C1212.6 1010.6 1214.2 1008.0 1216.1 1007.1C1218.0 1006.1 1221.2 1006.0 1223.8 1007.1C1226.3 1008.2 1230.1 1012.7 1231.4 1013.8" fill="none" stroke="#161616" stroke-width="2.40" stroke-linecap="round" stroke-linejoin="round" />
<path d="M1110.0 1082.2C1111.1 1081.6 1110.3 1082.1 1116.7 1078.8C1123.1 1075.5 1136.6 1068.7 1148.2 1062.5C1159.9 1056.3 1176.9 1046.3 1186.5 1041.5C1196.0 1036.7 1199.5 1035.6 1205.6 1033.8C1211.7 1032.1 1217.1 1030.7 1222.8 1031.0C1228.5 1031.3 1234.9 1032.7 1240.0 1035.8C1245.1 1038.8 1250.5 1044.4 1253.4 1049.1C1256.3 1053.9 1257.5 1059.7 1257.2 1064.4C1256.9 1069.2 1254.4 1074.3 1251.5 1077.8C1248.6 1081.3 1244.2 1084.2 1240.0 1085.5C1235.9 1086.7 1230.3 1086.7 1226.6 1085.5C1223.0 1084.2 1219.8 1080.4 1218.0 1077.8C1216.3 1075.3 1215.8 1072.6 1216.1 1070.2C1216.4 1067.8 1217.9 1064.6 1219.9 1063.5C1222.0 1062.4 1225.8 1062.5 1228.5 1063.5C1231.3 1064.4 1234.9 1068.3 1236.2 1069.2" fill="none" stroke="#161616" stroke-width="2.40" stroke-linecap="round" stroke-linejoin="round" />
<path d="M1110.0 1145.1C1111.1 1144.4 1110.3 1144.8 1116.7 1140.9C1123.1 1137.0 1136.6 1128.8 1148.2 1121.8C1159.9 1114.8 1176.9 1104.0 1186.5 1098.9C1196.0 1093.8 1199.2 1093.0 1205.6 1091.2C1212.0 1089.5 1218.3 1088.0 1224.7 1088.3C1231.1 1088.7 1238.6 1089.8 1243.8 1093.1C1249.1 1096.5 1253.7 1103.3 1256.3 1108.4C1258.8 1113.5 1259.6 1118.9 1259.1 1123.7C1258.7 1128.5 1256.3 1133.6 1253.4 1137.1C1250.5 1140.6 1246.1 1143.5 1241.9 1144.7C1237.8 1146.0 1232.4 1146.0 1228.5 1144.7C1224.7 1143.5 1221.1 1139.6 1219.0 1137.1C1216.9 1134.5 1216.0 1132.0 1216.1 1129.4C1216.3 1126.9 1217.9 1123.1 1219.9 1121.8C1222.0 1120.5 1225.8 1120.7 1228.5 1121.8C1231.3 1122.9 1234.9 1127.4 1236.2 1128.5" fill="none" stroke="#161616" stroke-width="2.40" stroke-linecap="round" stroke-linejoin="round" />
<path d="M1148.2 929.1C1154.6 931.1 1175.3 938.1 1186.5 941.1C1197.6 944.1 1207.2 945.7 1215.2 946.8C1223.1 948.0 1228.9 948.0 1234.3 947.8C1239.7 947.6 1244.2 947.5 1247.7 945.9C1251.2 944.3 1254.0 940.8 1255.3 938.2C1256.6 935.7 1256.6 932.5 1255.3 930.6C1254.0 928.7 1250.5 927.4 1247.7 926.8C1244.8 926.1 1239.7 926.8 1238.1 926.8" fill="none" stroke="#161616" stroke-width="2.40" stroke-linecap="round" stroke-linejoin="round" />
<path d="M1171.2 948.8C1175.3 946.7 1189.7 939.5 1196.0 936.3C1202.4 933.1 1205.3 931.2 1209.4 929.6C1213.6 928.0 1217.4 926.9 1220.9 926.8C1224.4 926.6 1228.5 927.4 1230.5 928.7C1232.4 930.0 1233.3 933.0 1232.4 934.4C1231.4 935.9 1227.0 937.4 1224.7 937.3C1222.5 937.1 1219.9 934.1 1219.0 933.5" fill="none" stroke="#161616" stroke-width="2.40" stroke-linecap="round" stroke-linejoin="round" />
<path d="M1116.7 936.3C1118.1 936.5 1122.6 936.5 1125.3 937.3C1128.0 938.1 1131.5 939.5 1132.9 941.1C1134.4 942.7 1134.9 945.5 1133.9 946.8C1132.9 948.2 1128.3 948.9 1127.2 949.3" fill="none" stroke="#161616" stroke-width="2.40" stroke-linecap="round" stroke-linejoin="round" />
<path d="M1115.7 972.7C1116.1 974.6 1117.6 980.6 1117.6 984.1C1117.6 987.6 1116.1 992.1 1115.7 993.7" fill="none" stroke="#161616" stroke-width="3.00" stroke-linecap="round" stroke-linejoin="round" />
<path d="M1331.3 961.2C1332.6 962.5 1335.5 966.8 1339.0 968.8C1342.5 970.9 1347.6 973.3 1352.4 973.6C1357.2 973.9 1362.9 972.4 1367.7 970.8C1372.5 969.2 1376.9 966.1 1381.1 964.1C1385.2 962.0 1390.6 959.3 1392.5 958.3" fill="none" stroke="#161616" stroke-width="2.40" stroke-linecap="round" stroke-linejoin="round" />
<path d="M1463.3 957.4C1463.9 958.6 1464.9 963.0 1467.1 965.0C1469.3 967.1 1473.2 969.2 1476.7 969.8C1480.2 970.4 1484.6 969.8 1488.2 968.8C1491.7 967.9 1496.1 964.9 1497.7 964.1" fill="none" stroke="#161616" stroke-width="2.40" stroke-linecap="round" stroke-linejoin="round" />
<path d="M1346.6 988.9C1347.9 989.9 1351.7 993.7 1354.3 994.7C1356.8 995.6 1359.7 995.9 1361.9 994.7C1364.2 993.4 1367.2 989.7 1367.7 987.0C1368.1 984.3 1366.7 980.6 1364.8 978.4C1362.9 976.2 1359.9 974.4 1356.2 973.6C1352.5 972.8 1347.0 972.5 1342.8 973.6C1338.7 974.7 1334.2 977.0 1331.3 980.3C1328.5 983.7 1326.2 988.9 1325.6 993.7C1325.0 998.5 1325.6 1004.5 1327.5 1009.0C1329.4 1013.5 1332.9 1017.6 1337.1 1020.5C1341.2 1023.4 1347.3 1025.6 1352.4 1026.2C1357.5 1026.9 1361.9 1026.2 1367.7 1024.3C1373.4 1022.4 1378.2 1019.5 1386.8 1014.7C1395.4 1010.0 1409.1 1001.4 1419.3 995.6C1429.5 989.9 1440.0 984.0 1448.0 980.3C1456.0 976.7 1461.4 974.7 1467.1 973.6C1472.9 972.5 1477.3 972.7 1482.4 973.6C1487.5 974.6 1495.2 978.4 1497.7 979.4" fill="none" stroke="#161616" stroke-width="2.40" stroke-linecap="round" stroke-linejoin="round" />
<path d="M1497.7 1022.4C1495.5 1022.2 1488.5 1022.7 1484.3 1021.4C1480.2 1020.2 1475.6 1017.1 1472.9 1014.7C1470.1 1012.4 1468.4 1009.3 1468.1 1007.1C1467.8 1004.9 1469.3 1002.3 1470.9 1001.4C1472.5 1000.4 1475.1 1000.4 1477.6 1001.4C1480.2 1002.3 1484.8 1006.1 1486.2 1007.1" fill="none" stroke="#161616" stroke-width="2.40" stroke-linecap="round" stroke-linejoin="round" />
<path d="M1350.5 1044.4C1351.7 1045.5 1355.7 1050.1 1358.1 1051.1C1360.5 1052.0 1362.9 1051.6 1364.8 1050.1C1366.7 1048.7 1369.1 1045.2 1369.6 1042.5C1370.1 1039.8 1369.6 1036.3 1367.7 1033.9C1365.8 1031.5 1361.9 1028.9 1358.1 1028.1C1354.3 1027.3 1348.9 1027.8 1344.7 1029.1C1340.6 1030.4 1336.1 1032.4 1333.2 1035.8C1330.4 1039.1 1328.1 1044.4 1327.5 1049.2C1326.9 1053.9 1327.5 1059.8 1329.4 1064.5C1331.3 1069.1 1334.8 1073.9 1339.0 1076.9C1343.1 1079.9 1348.9 1082.2 1354.3 1082.6C1359.7 1083.1 1365.4 1081.8 1371.5 1079.8C1377.6 1077.7 1382.7 1074.7 1390.6 1070.2C1398.6 1065.7 1409.7 1058.6 1419.3 1053.0C1428.9 1047.4 1440.0 1040.9 1448.0 1036.7C1456.0 1032.6 1461.4 1030.0 1467.1 1028.1C1472.9 1026.2 1477.3 1025.2 1482.4 1025.3C1487.5 1025.3 1495.2 1028.0 1497.7 1028.5" fill="none" stroke="#161616" stroke-width="2.40" stroke-linecap="round" stroke-linejoin="round" />
<path d="M1497.7 1080.1C1495.5 1079.6 1488.2 1078.6 1484.3 1076.9C1480.5 1075.2 1476.8 1072.6 1474.8 1070.2C1472.7 1067.8 1471.7 1064.6 1471.9 1062.6C1472.1 1060.5 1473.8 1058.4 1475.7 1057.8C1477.6 1057.1 1480.8 1057.8 1483.4 1058.7C1485.9 1059.7 1489.7 1062.7 1491.0 1063.5" fill="none" stroke="#161616" stroke-width="2.40" stroke-linecap="round" stroke-linejoin="round" />
<path d="M1354.3 1101.8C1355.6 1103.0 1359.4 1108.1 1361.9 1109.4C1364.5 1110.7 1367.4 1110.7 1369.6 1109.4C1371.8 1108.1 1374.7 1104.5 1375.3 1101.8C1376.0 1099.1 1375.3 1095.7 1373.4 1093.2C1371.5 1090.6 1367.7 1087.6 1363.8 1086.5C1360.0 1085.3 1354.8 1085.3 1350.5 1086.5C1346.2 1087.6 1341.2 1089.8 1338.0 1093.2C1334.8 1096.5 1332.3 1101.8 1331.3 1106.5C1330.4 1111.3 1330.7 1117.1 1332.3 1121.8C1333.9 1126.6 1337.2 1131.7 1340.9 1135.2C1344.6 1138.7 1349.2 1141.6 1354.3 1142.9C1359.4 1144.2 1365.4 1144.3 1371.5 1142.9C1377.6 1141.4 1382.7 1138.7 1390.6 1134.3C1398.6 1129.8 1409.7 1122.2 1419.3 1116.1C1428.9 1110.0 1440.0 1102.7 1448.0 1097.9C1456.0 1093.2 1461.1 1090.1 1467.1 1087.4C1473.2 1084.7 1479.2 1082.6 1484.3 1081.7C1489.4 1080.7 1495.5 1081.7 1497.7 1081.7" fill="none" stroke="#161616" stroke-width="2.40" stroke-linecap="round" stroke-linejoin="round" />
<path d="M1497.7 1140.0C1495.8 1139.2 1489.1 1137.3 1486.2 1135.2C1483.4 1133.2 1481.3 1130.1 1480.5 1127.6C1479.7 1125.0 1480.2 1121.8 1481.5 1119.9C1482.7 1118.0 1485.4 1116.4 1488.2 1116.1C1490.9 1115.8 1496.1 1118.0 1497.7 1118.4" fill="none" stroke="#161616" stroke-width="2.40" stroke-linecap="round" stroke-linejoin="round" />
<path d="M1348.5 940.2C1349.8 941.0 1353.6 944.6 1356.2 944.9C1358.7 945.3 1362.0 943.7 1363.8 942.1C1365.7 940.5 1367.6 937.6 1367.3 935.4C1367.0 933.1 1364.7 930.0 1361.9 928.7C1359.1 927.4 1354.6 927.3 1350.5 927.7C1346.3 928.2 1340.7 929.5 1337.1 931.6C1333.4 933.6 1329.7 937.3 1328.5 940.2C1327.2 943.0 1329.3 947.3 1329.4 948.8" fill="none" stroke="#161616" stroke-width="2.40" stroke-linecap="round" stroke-linejoin="round" />
<path d="M1365.8 948.8C1371.5 947.0 1389.0 941.6 1400.2 938.2C1411.3 934.9 1427.3 930.3 1432.7 928.7" fill="none" stroke="#161616" stroke-width="2.40" stroke-linecap="round" stroke-linejoin="round" />
<path d="M1417.4 946.9C1421.2 944.8 1434.3 937.6 1440.3 934.4C1446.4 931.2 1451.5 928.8 1453.7 927.7" fill="none" stroke="#161616" stroke-width="2.40" stroke-linecap="round" stroke-linejoin="round" />
<path d="M1466.2 943.0C1466.5 941.9 1468.7 938.1 1468.1 936.3C1467.4 934.6 1464.4 932.5 1462.3 932.5C1460.3 932.5 1456.9 934.6 1455.6 936.3C1454.4 938.1 1453.7 941.1 1454.7 943.0C1455.6 944.9 1457.7 947.2 1461.4 947.8C1465.0 948.4 1472.2 948.4 1476.7 946.9C1481.1 945.3 1484.6 941.6 1488.2 938.2C1491.7 934.9 1496.1 928.7 1497.7 926.8" fill="none" stroke="#161616" stroke-width="2.40" stroke-linecap="round" stroke-linejoin="round" /></g>
</g>
<g id="scrolls">
<path d="M565.0 635.7C564.8 637.7 563.2 644.3 563.4 647.5C563.7 650.7 565.3 655.1 566.6 655.1C567.9 655.1 570.2 651.0 571.2 647.5C572.2 644.0 573.1 638.4 572.8 634.0C572.5 629.7 571.5 624.5 569.6 621.4C567.7 618.3 564.1 614.9 561.4 615.5C558.7 616.1 555.1 620.3 553.3 624.8C551.6 629.3 550.9 636.4 550.6 642.5C550.3 648.5 548.1 645.0 551.7 661.0C555.4 677.0 568.7 722.5 572.4 738.5C576.0 754.5 573.8 751.0 573.5 757.0C573.2 763.1 572.5 770.2 570.8 774.7C569.0 779.2 565.4 783.4 562.7 784.0C560.0 784.6 556.4 781.2 554.5 778.1C552.6 775.0 551.6 769.8 551.3 765.5C551.0 761.1 551.9 755.5 552.9 752.0C553.9 748.5 556.2 744.4 557.5 744.4C558.8 744.4 560.4 748.8 560.7 752.0C560.9 755.2 559.3 761.8 559.1 763.8" fill="none" stroke="#141414" stroke-width="2.00" stroke-linecap="round" stroke-linejoin="round" />
<path d="M585.5 637.6C585.2 639.5 583.9 646.1 584.1 649.3C584.4 652.6 585.7 656.9 586.8 656.9C587.9 656.9 589.7 652.8 590.6 649.3C591.5 645.8 592.2 640.2 591.9 635.9C591.7 631.5 590.9 626.4 589.3 623.3C587.7 620.2 584.7 616.8 582.4 617.4C580.2 618.0 577.3 622.2 575.8 626.6C574.3 631.1 573.7 638.3 573.5 644.3C573.3 650.3 571.4 646.8 574.5 662.8C577.5 678.8 588.5 724.1 591.5 740.1C594.6 756.1 592.7 752.6 592.5 758.6C592.3 764.6 591.7 771.8 590.2 776.3C588.7 780.7 585.8 784.9 583.6 785.5C581.3 786.1 578.3 782.7 576.7 779.6C575.1 776.5 574.3 771.4 574.1 767.0C573.8 762.7 574.5 757.1 575.4 753.6C576.3 750.1 578.1 746.0 579.2 746.0C580.3 746.0 581.6 750.3 581.9 753.6C582.1 756.8 580.8 763.4 580.5 765.3" fill="none" stroke="#141414" stroke-width="2.00" stroke-linecap="round" stroke-linejoin="round" />
<path d="M604.3 639.4C604.1 641.3 602.9 647.8 603.1 650.9C603.3 654.1 604.6 658.3 605.6 658.3C606.6 658.3 608.4 654.3 609.2 650.9C610.0 647.5 610.7 642.0 610.5 637.8C610.2 633.5 609.4 628.5 607.9 625.5C606.4 622.4 603.6 619.2 601.5 619.7C599.3 620.2 596.6 624.4 595.2 628.7C593.8 633.1 593.2 640.1 593.0 646.0C592.8 651.9 591.0 648.5 593.9 664.1C596.8 679.7 607.2 724.0 610.1 739.6C613.0 755.2 611.2 751.8 611.0 757.7C610.8 763.6 610.2 770.6 608.8 775.0C607.4 779.3 604.7 783.5 602.5 784.0C600.4 784.5 597.6 781.3 596.1 778.2C594.6 775.2 593.8 770.2 593.5 765.9C593.3 761.7 594.0 756.2 594.8 752.8C595.6 749.4 597.4 745.4 598.4 745.4C599.4 745.4 600.7 749.6 600.9 752.8C601.1 755.9 599.9 762.4 599.7 764.3" fill="none" stroke="#141414" stroke-width="2.00" stroke-linecap="round" stroke-linejoin="round" />
<path d="M622.6 639.8C622.4 641.6 621.2 647.9 621.4 651.0C621.6 654.1 622.8 658.2 623.8 658.2C624.8 658.2 626.5 654.3 627.3 651.0C628.0 647.7 628.7 642.3 628.5 638.2C628.3 634.0 627.5 629.1 626.1 626.1C624.6 623.2 621.9 620.0 619.8 620.5C617.8 621.0 615.1 625.0 613.8 629.3C612.4 633.6 611.9 640.4 611.7 646.2C611.5 651.9 609.8 648.6 612.6 663.8C615.3 679.1 625.4 722.4 628.1 737.7C630.9 752.9 629.2 749.6 629.0 755.3C628.8 761.1 628.3 767.9 626.9 772.2C625.6 776.5 622.9 780.5 620.9 781.0C618.8 781.5 616.1 778.3 614.6 775.4C613.2 772.4 612.4 767.5 612.2 763.3C612.0 759.2 612.7 753.8 613.4 750.5C614.2 747.2 615.9 743.3 616.9 743.3C617.9 743.3 619.1 747.4 619.3 750.5C619.5 753.6 618.3 759.9 618.1 761.7" fill="none" stroke="#141414" stroke-width="2.00" stroke-linecap="round" stroke-linejoin="round" />
<path d="M564.5 808.5C564.2 810.5 562.8 817.2 563.0 820.5C563.3 823.8 564.7 828.2 565.9 828.2C567.0 828.2 569.0 824.1 570.0 820.5C570.9 816.9 571.6 811.2 571.4 806.8C571.2 802.4 570.2 797.1 568.5 794.0C566.8 790.9 563.6 787.4 561.2 788.0C558.8 788.6 555.6 792.8 554.0 797.4C552.5 802.0 551.8 809.2 551.6 815.4C551.4 821.5 549.4 817.9 552.6 834.2C555.9 850.4 567.8 896.6 571.0 912.8C574.2 929.1 572.2 925.5 572.0 931.6C571.8 937.8 571.1 945.0 569.6 949.6C568.0 954.2 564.8 958.4 562.4 959.0C560.0 959.6 556.8 956.1 555.1 953.0C553.4 949.9 552.5 944.6 552.2 940.2C552.0 935.8 552.7 930.1 553.6 926.5C554.6 922.9 556.6 918.8 557.7 918.8C558.9 918.8 560.3 923.2 560.6 926.5C560.8 929.8 559.4 936.5 559.1 938.5" fill="none" stroke="#141414" stroke-width="2.00" stroke-linecap="round" stroke-linejoin="round" />
<path d="M585.6 806.0C585.4 807.9 583.8 814.6 584.1 817.8C584.3 821.0 585.9 825.4 587.1 825.4C588.3 825.4 590.5 821.3 591.4 817.8C592.4 814.3 593.2 808.6 593.0 804.3C592.7 799.9 591.7 794.7 589.9 791.6C588.1 788.5 584.7 785.1 582.2 785.7C579.6 786.3 576.3 790.5 574.6 795.0C572.9 799.5 572.3 806.7 572.0 812.7C571.7 818.8 569.7 815.3 573.1 831.3C576.5 847.3 589.1 893.0 592.5 909.0C595.9 925.0 593.9 921.5 593.6 927.6C593.3 933.6 592.7 940.8 591.0 945.3C589.3 949.8 586.0 954.0 583.4 954.6C580.9 955.2 577.5 951.8 575.7 948.7C573.9 945.6 572.9 940.4 572.6 936.0C572.4 931.7 573.2 926.0 574.2 922.5C575.1 919.0 577.3 914.9 578.5 914.9C579.7 914.9 581.3 919.3 581.5 922.5C581.8 925.7 580.2 932.4 580.0 934.3" fill="none" stroke="#141414" stroke-width="2.00" stroke-linecap="round" stroke-linejoin="round" />
<path d="M605.0 803.1C604.8 805.0 603.5 811.5 603.7 814.6C603.9 817.8 605.2 822.0 606.3 822.0C607.3 822.0 609.1 818.1 609.9 814.6C610.7 811.2 611.4 805.7 611.2 801.5C610.9 797.2 610.1 792.2 608.6 789.2C607.1 786.1 604.2 782.9 602.1 783.4C600.0 783.9 597.2 788.1 595.8 792.4C594.4 796.8 593.8 803.8 593.6 809.7C593.4 815.6 591.6 812.2 594.5 827.8C597.4 843.4 607.9 887.8 610.8 903.4C613.7 919.0 611.9 915.6 611.7 921.5C611.5 927.4 610.9 934.4 609.5 938.8C608.1 943.1 605.3 947.3 603.2 947.8C601.1 948.3 598.2 945.1 596.7 942.0C595.2 939.0 594.4 934.0 594.1 929.7C593.9 925.5 594.6 920.0 595.4 916.6C596.2 913.1 598.0 909.2 599.0 909.2C600.1 909.2 601.4 913.4 601.6 916.6C601.8 919.7 600.5 926.2 600.3 928.1" fill="none" stroke="#141414" stroke-width="2.00" stroke-linecap="round" stroke-linejoin="round" />
<path d="M622.3 801.2C622.1 803.1 620.9 809.3 621.1 812.4C621.3 815.5 622.5 819.6 623.5 819.6C624.4 819.6 626.1 815.7 626.8 812.4C627.6 809.1 628.2 803.7 628.0 799.6C627.8 795.5 627.0 790.5 625.6 787.6C624.2 784.7 621.6 781.5 619.6 782.0C617.6 782.5 615.0 786.5 613.7 790.8C612.4 795.1 611.9 801.9 611.7 807.6C611.5 813.3 609.9 810.0 612.5 825.2C615.2 840.4 625.0 883.6 627.7 898.8C630.3 914.0 628.7 910.7 628.5 916.4C628.3 922.1 627.8 928.9 626.5 933.2C625.2 937.5 622.6 941.5 620.6 942.0C618.6 942.5 616.0 939.3 614.6 936.4C613.2 933.5 612.4 928.5 612.2 924.4C612.0 920.3 612.6 914.9 613.4 911.6C614.1 908.3 615.8 904.4 616.7 904.4C617.7 904.4 618.9 908.5 619.1 911.6C619.3 914.7 618.1 920.9 617.9 922.8" fill="none" stroke="#141414" stroke-width="2.00" stroke-linecap="round" stroke-linejoin="round" />
<path d="M565.2 1046.6C565.0 1048.5 563.4 1054.9 563.7 1058.1C563.9 1061.2 565.5 1065.4 566.7 1065.4C567.9 1065.4 570.1 1061.5 571.0 1058.1C572.0 1054.7 572.8 1049.2 572.6 1045.0C572.3 1040.8 571.3 1035.7 569.5 1032.7C567.7 1029.7 564.3 1026.5 561.8 1027.0C559.2 1027.5 555.9 1031.6 554.2 1036.0C552.5 1040.4 551.9 1047.3 551.6 1053.2C551.3 1059.0 549.3 1055.6 552.7 1071.1C556.1 1086.7 568.7 1130.8 572.1 1146.4C575.5 1161.9 573.5 1158.5 573.2 1164.3C572.9 1170.2 572.3 1177.1 570.6 1181.5C568.9 1185.9 565.6 1190.0 563.0 1190.5C560.5 1191.0 557.1 1187.8 555.3 1184.8C553.5 1181.8 552.5 1176.7 552.2 1172.5C552.0 1168.3 552.8 1162.8 553.8 1159.4C554.7 1156.0 556.9 1152.1 558.1 1152.1C559.3 1152.1 560.9 1156.3 561.1 1159.4C561.4 1162.6 559.8 1169.0 559.6 1170.9" fill="none" stroke="#141414" stroke-width="2.00" stroke-linecap="round" stroke-linejoin="round" />
<path d="M586.7 1035.6C586.4 1037.6 584.9 1044.0 585.2 1047.2C585.4 1050.4 587.0 1054.6 588.2 1054.6C589.4 1054.6 591.6 1050.6 592.5 1047.2C593.5 1043.7 594.3 1038.2 594.0 1034.0C593.8 1029.7 592.8 1024.6 591.0 1021.6C589.2 1018.6 585.8 1015.2 583.2 1015.8C580.6 1016.4 577.3 1020.5 575.6 1024.9C573.9 1029.3 573.3 1036.3 573.0 1042.2C572.7 1048.2 570.6 1044.7 574.1 1060.4C577.5 1076.1 590.2 1120.7 593.6 1136.4C597.1 1152.1 595.0 1148.6 594.7 1154.6C594.4 1160.5 593.8 1167.5 592.1 1171.9C590.4 1176.3 587.1 1180.4 584.5 1181.0C581.9 1181.6 578.5 1178.2 576.7 1175.2C574.9 1172.2 573.9 1167.1 573.7 1162.8C573.4 1158.6 574.2 1153.1 575.2 1149.6C576.1 1146.2 578.3 1142.2 579.5 1142.2C580.7 1142.2 582.3 1146.4 582.5 1149.6C582.8 1152.8 581.3 1159.2 581.0 1161.2" fill="none" stroke="#141414" stroke-width="2.00" stroke-linecap="round" stroke-linejoin="round" />
<path d="M606.1 1024.6C605.9 1026.5 604.6 1033.1 604.8 1036.3C605.0 1039.5 606.3 1043.8 607.4 1043.8C608.4 1043.8 610.2 1039.8 611.0 1036.3C611.8 1032.8 612.5 1027.2 612.3 1022.9C612.0 1018.6 611.2 1013.4 609.7 1010.4C608.2 1007.3 605.3 1003.9 603.2 1004.5C601.1 1005.1 598.3 1009.2 596.9 1013.7C595.5 1018.2 594.9 1025.3 594.7 1031.3C594.5 1037.2 592.7 1033.8 595.6 1049.6C598.5 1065.5 609.0 1110.7 611.9 1126.6C614.8 1142.4 613.0 1139.0 612.8 1144.9C612.6 1150.9 612.0 1158.0 610.6 1162.5C609.2 1167.0 606.4 1171.1 604.3 1171.7C602.2 1172.3 599.3 1168.9 597.8 1165.8C596.3 1162.8 595.5 1157.6 595.2 1153.3C595.0 1149.0 595.7 1143.4 596.5 1139.9C597.3 1136.4 599.1 1132.4 600.1 1132.4C601.2 1132.4 602.5 1136.7 602.7 1139.9C602.9 1143.1 601.6 1149.7 601.4 1151.6" fill="none" stroke="#141414" stroke-width="2.00" stroke-linecap="round" stroke-linejoin="round" />
<path d="M622.4 1016.1C622.2 1018.0 621.1 1024.4 621.3 1027.6C621.5 1030.7 622.6 1034.9 623.4 1034.9C624.3 1034.9 625.8 1031.0 626.5 1027.6C627.2 1024.2 627.7 1018.7 627.5 1014.5C627.4 1010.3 626.7 1005.2 625.4 1002.2C624.1 999.2 621.7 996.0 619.9 996.5C618.1 997.0 615.8 1001.1 614.6 1005.5C613.4 1009.9 613.0 1016.8 612.8 1022.7C612.6 1028.5 611.2 1025.1 613.6 1040.6C616.0 1056.2 624.8 1100.3 627.2 1115.9C629.6 1131.4 628.2 1128.0 628.0 1133.8C627.8 1139.7 627.4 1146.6 626.2 1151.0C625.0 1155.4 622.7 1159.5 620.9 1160.0C619.1 1160.5 616.7 1157.3 615.4 1154.3C614.1 1151.3 613.4 1146.2 613.3 1142.0C613.1 1137.8 613.6 1132.3 614.3 1128.9C615.0 1125.5 616.5 1121.6 617.4 1121.6C618.2 1121.6 619.3 1125.8 619.5 1128.9C619.7 1132.1 618.6 1138.5 618.4 1140.4" fill="none" stroke="#141414" stroke-width="2.00" stroke-linecap="round" stroke-linejoin="round" />
<path d="M561.8 1212.4C561.6 1214.3 560.3 1220.7 560.5 1223.8C560.7 1226.9 562.0 1231.2 563.1 1231.2C564.1 1231.2 566.0 1227.2 566.8 1223.8C567.7 1220.4 568.4 1215.0 568.1 1210.8C567.9 1206.5 567.1 1201.5 565.5 1198.5C564.0 1195.5 561.0 1192.3 558.8 1192.8C556.6 1193.3 553.7 1197.4 552.2 1201.8C550.8 1206.1 550.2 1213.1 550.0 1218.9C549.8 1224.8 548.0 1221.4 550.9 1236.9C553.9 1252.4 564.8 1296.4 567.8 1311.9C570.7 1327.4 568.9 1324.0 568.7 1329.9C568.5 1335.7 567.9 1342.7 566.5 1347.0C565.0 1351.4 562.1 1355.5 559.9 1356.0C557.7 1356.5 554.7 1353.3 553.2 1350.3C551.6 1347.3 550.8 1342.3 550.6 1338.0C550.3 1333.8 551.0 1328.4 551.9 1325.0C552.7 1321.6 554.6 1317.6 555.6 1317.6C556.7 1317.6 558.0 1321.9 558.2 1325.0C558.4 1328.1 557.1 1334.5 556.9 1336.4" fill="none" stroke="#141414" stroke-width="2.00" stroke-linecap="round" stroke-linejoin="round" />
<path d="M581.3 1201.3C581.1 1203.2 579.7 1209.5 579.9 1212.6C580.1 1215.7 581.6 1219.8 582.7 1219.8C583.8 1219.8 585.8 1215.9 586.7 1212.6C587.6 1209.2 588.3 1203.9 588.1 1199.7C587.9 1195.6 587.0 1190.6 585.3 1187.6C583.6 1184.7 580.5 1181.5 578.1 1182.0C575.7 1182.5 572.7 1186.6 571.1 1190.9C569.5 1195.1 568.9 1202.0 568.7 1207.8C568.5 1213.5 566.5 1210.2 569.7 1225.5C572.9 1240.8 584.5 1284.2 587.7 1299.5C590.9 1314.8 588.9 1311.5 588.7 1317.2C588.5 1323.0 587.9 1329.9 586.3 1334.1C584.7 1338.4 581.7 1342.5 579.3 1343.0C576.9 1343.5 573.8 1340.3 572.1 1337.4C570.4 1334.4 569.5 1329.4 569.3 1325.3C569.1 1321.1 569.8 1315.8 570.7 1312.4C571.6 1309.1 573.6 1305.2 574.7 1305.2C575.8 1305.2 577.3 1309.3 577.5 1312.4C577.7 1315.5 576.3 1321.8 576.1 1323.7" fill="none" stroke="#141414" stroke-width="2.00" stroke-linecap="round" stroke-linejoin="round" />
<path d="M600.5 1189.5C600.3 1191.4 599.0 1197.6 599.2 1200.6C599.4 1203.7 600.8 1207.7 601.9 1207.7C602.9 1207.7 604.8 1203.9 605.6 1200.6C606.5 1197.3 607.2 1192.0 606.9 1187.9C606.7 1183.8 605.9 1179.0 604.3 1176.0C602.7 1173.1 599.8 1170.0 597.5 1170.5C595.3 1171.0 592.4 1175.0 591.0 1179.2C589.5 1183.4 588.9 1190.2 588.7 1195.9C588.5 1201.5 586.7 1198.2 589.6 1213.3C592.6 1228.4 603.6 1271.1 606.6 1286.2C609.5 1301.3 607.7 1298.0 607.5 1303.6C607.3 1309.3 606.7 1316.1 605.2 1320.3C603.8 1324.5 600.9 1328.5 598.7 1329.0C596.4 1329.5 593.5 1326.4 591.9 1323.5C590.3 1320.5 589.5 1315.7 589.3 1311.6C589.0 1307.5 589.7 1302.2 590.6 1298.9C591.4 1295.6 593.3 1291.8 594.3 1291.8C595.4 1291.8 596.8 1295.8 597.0 1298.9C597.2 1301.9 595.9 1308.1 595.7 1310.0" fill="none" stroke="#141414" stroke-width="2.00" stroke-linecap="round" stroke-linejoin="round" />
<path d="M618.5 1178.6C618.3 1180.4 617.1 1186.5 617.3 1189.5C617.5 1192.4 618.8 1196.4 619.8 1196.4C620.7 1196.4 622.5 1192.7 623.2 1189.5C624.0 1186.2 624.7 1181.1 624.5 1177.0C624.3 1173.0 623.5 1168.3 622.0 1165.4C620.6 1162.6 617.8 1159.5 615.7 1160.0C613.7 1160.5 611.0 1164.4 609.6 1168.5C608.2 1172.7 607.7 1179.2 607.5 1184.8C607.3 1190.4 605.6 1187.1 608.4 1201.8C611.1 1216.6 621.4 1258.4 624.1 1273.2C626.9 1287.9 625.2 1284.6 625.0 1290.2C624.8 1295.8 624.3 1302.3 622.9 1306.5C621.5 1310.6 618.8 1314.5 616.8 1315.0C614.7 1315.5 611.9 1312.4 610.5 1309.6C609.0 1306.7 608.2 1302.0 608.0 1298.0C607.8 1293.9 608.5 1288.8 609.2 1285.5C610.0 1282.3 611.8 1278.6 612.8 1278.6C613.7 1278.6 615.0 1282.6 615.2 1285.5C615.4 1288.5 614.2 1294.6 614.0 1296.4" fill="none" stroke="#141414" stroke-width="2.00" stroke-linecap="round" stroke-linejoin="round" />
<path d="M504.9 641.0C506.4 641.1 511.5 640.2 513.5 641.5C515.6 642.8 518.1 646.3 517.4 648.6C516.8 650.9 512.6 655.4 509.7 655.5C506.7 655.6 501.7 653.0 499.5 649.3C497.3 645.5 495.8 637.7 496.4 633.0C497.0 628.4 500.1 624.0 503.4 621.3C506.6 618.6 511.4 616.8 515.8 616.9C520.3 617.1 526.1 619.2 529.9 622.1C533.6 625.1 536.9 630.2 538.4 634.6C540.0 639.0 540.1 643.2 539.2 648.6C538.3 654.1 539.0 652.2 533.0 667.3C527.1 682.3 509.3 723.9 503.4 738.9C497.4 754.0 498.1 752.1 497.2 757.6C496.3 763.0 496.4 767.2 498.0 771.6C499.5 776.0 502.8 781.1 506.5 784.1C510.3 787.0 516.1 789.1 520.6 789.3C525.0 789.4 529.8 787.6 533.0 784.9C536.3 782.2 539.4 777.8 540.0 773.2C540.6 768.5 539.1 760.7 536.9 756.9C534.7 753.2 529.7 750.6 526.7 750.7C523.8 750.8 519.6 755.3 519.0 757.6C518.3 759.9 520.8 763.4 522.9 764.7C524.9 766.0 530.0 765.1 531.5 765.2" fill="none" stroke="#141414" stroke-width="2.00" stroke-linecap="round" stroke-linejoin="round" />
<path d="M505.9 814.2C507.3 814.3 512.5 813.4 514.6 814.7C516.7 815.9 519.2 819.4 518.5 821.7C517.8 824.0 513.7 828.5 510.6 828.6C507.6 828.7 502.6 826.1 500.3 822.4C498.1 818.7 496.5 810.9 497.2 806.3C497.9 801.7 501.0 797.3 504.3 794.6C507.6 792.0 512.4 790.2 516.9 790.3C521.4 790.5 527.3 792.6 531.1 795.5C535.0 798.4 538.2 803.5 539.8 807.8C541.4 812.2 541.5 816.3 540.6 821.7C539.7 827.1 540.4 825.3 534.3 840.2C528.3 855.1 510.3 896.3 504.3 911.2C498.2 926.1 498.9 924.3 498.0 929.7C497.1 935.1 497.2 939.2 498.8 943.6C500.4 947.9 503.6 953.0 507.5 955.9C511.3 958.8 517.2 960.9 521.7 961.1C526.2 961.2 531.0 959.4 534.3 956.8C537.6 954.1 540.7 949.7 541.4 945.1C542.1 940.5 540.5 932.7 538.3 929.0C536.0 925.3 531.0 922.7 528.0 922.8C524.9 922.9 520.8 927.4 520.1 929.7C519.4 932.0 521.9 935.5 524.0 936.7C526.1 938.0 531.3 937.1 532.7 937.2" fill="none" stroke="#141414" stroke-width="2.00" stroke-linecap="round" stroke-linejoin="round" />
<path d="M532.1 1049.3C530.7 1049.4 525.5 1048.6 523.4 1049.8C521.3 1051.1 518.8 1054.4 519.4 1056.6C520.1 1058.9 524.3 1063.1 527.3 1063.3C530.4 1063.4 535.4 1060.9 537.7 1057.3C539.9 1053.7 541.5 1046.2 540.8 1041.7C540.1 1037.3 537.0 1033.0 533.7 1030.5C530.4 1027.9 525.5 1026.2 521.0 1026.3C516.6 1026.5 510.6 1028.5 506.8 1031.3C503.0 1034.1 499.7 1039.0 498.1 1043.2C496.5 1047.4 496.4 1051.4 497.3 1056.6C498.2 1061.9 497.5 1060.1 503.6 1074.5C509.7 1088.9 527.6 1128.7 533.7 1143.1C539.8 1157.5 539.1 1155.7 540.0 1161.0C540.9 1166.2 540.8 1170.2 539.2 1174.4C537.6 1178.6 534.3 1183.5 530.5 1186.3C526.7 1189.1 520.7 1191.1 516.3 1191.3C511.8 1191.4 506.9 1189.7 503.6 1187.1C500.3 1184.6 497.2 1180.3 496.5 1175.9C495.8 1171.4 497.4 1163.9 499.6 1160.3C501.9 1156.7 506.9 1154.2 510.0 1154.3C513.0 1154.5 517.2 1158.7 517.9 1161.0C518.5 1163.2 516.0 1166.5 513.9 1167.8C511.8 1169.0 506.6 1168.2 505.2 1168.3" fill="none" stroke="#141414" stroke-width="2.00" stroke-linecap="round" stroke-linejoin="round" />
<path d="M531.8 1216.7C530.3 1216.7 525.1 1215.9 523.0 1217.2C520.8 1218.4 518.3 1221.8 519.0 1224.1C519.7 1226.4 523.9 1230.8 526.9 1230.9C530.0 1231.0 535.1 1228.4 537.3 1224.8C539.6 1221.1 541.2 1213.4 540.5 1208.9C539.8 1204.3 536.7 1200.0 533.4 1197.4C530.0 1194.7 525.1 1193.0 520.6 1193.1C516.1 1193.3 510.1 1195.3 506.2 1198.2C502.4 1201.1 499.1 1206.1 497.5 1210.4C495.9 1214.7 495.8 1218.8 496.7 1224.1C497.6 1229.4 496.9 1227.7 503.0 1242.4C509.1 1257.1 527.3 1297.7 533.4 1312.4C539.5 1327.1 538.8 1325.4 539.7 1330.7C540.6 1336.0 540.5 1340.1 538.9 1344.4C537.3 1348.7 534.0 1353.7 530.2 1356.6C526.3 1359.5 520.3 1361.5 515.8 1361.7C511.3 1361.8 506.4 1360.1 503.0 1357.4C499.7 1354.8 496.6 1350.5 495.9 1345.9C495.2 1341.4 496.8 1333.7 499.1 1330.0C501.3 1326.4 506.4 1323.8 509.5 1323.9C512.5 1324.0 516.7 1328.4 517.4 1330.7C518.1 1333.0 515.6 1336.4 513.4 1337.6C511.3 1338.9 506.1 1338.1 504.6 1338.1" fill="none" stroke="#141414" stroke-width="2.00" stroke-linecap="round" stroke-linejoin="round" />
<path d="M65.0 635.5C64.8 637.3 63.2 643.1 63.5 645.9C63.7 648.7 65.3 652.6 66.6 652.6C67.9 652.6 70.1 649.0 71.1 645.9C72.1 642.8 72.9 637.9 72.6 634.1C72.4 630.2 71.4 625.7 69.5 623.0C67.7 620.3 64.1 617.3 61.5 617.8C58.8 618.3 55.4 622.0 53.7 625.9C51.9 629.9 51.3 636.2 51.0 641.5C50.7 646.8 48.6 643.7 52.1 657.7C55.6 671.8 68.7 711.7 72.2 725.8C75.7 739.8 73.6 736.7 73.3 742.0C73.0 747.3 72.4 753.6 70.6 757.6C68.9 761.5 65.5 765.2 62.8 765.7C60.2 766.2 56.6 763.2 54.8 760.5C52.9 757.8 51.9 753.3 51.7 749.4C51.4 745.6 52.2 740.7 53.2 737.6C54.2 734.5 56.4 730.9 57.7 730.9C59.0 730.9 60.6 734.8 60.8 737.6C61.1 740.4 59.5 746.2 59.3 748.0" fill="none" stroke="#141414" stroke-width="2.00" stroke-linecap="round" stroke-linejoin="round" />
<path d="M90.5 635.5C90.1 637.3 87.9 643.1 88.3 645.9C88.6 648.7 90.9 652.6 92.6 652.6C94.4 652.6 97.5 649.0 98.9 645.9C100.3 642.8 101.4 637.9 101.1 634.1C100.7 630.2 99.3 625.7 96.7 623.0C94.1 620.3 89.2 617.3 85.5 617.8C81.8 618.3 77.0 622.0 74.5 625.9C72.1 629.9 71.2 636.2 70.8 641.5C70.4 646.8 67.4 643.7 72.4 657.7C77.3 671.8 95.5 711.7 100.4 725.8C105.4 739.8 102.4 736.7 102.0 742.0C101.6 747.3 100.7 753.6 98.3 757.6C95.8 761.5 91.0 765.2 87.3 765.7C83.6 766.2 78.7 763.2 76.1 760.5C73.5 757.8 72.1 753.3 71.7 749.4C71.4 745.6 72.5 740.7 73.9 737.6C75.3 734.5 78.4 730.9 80.2 730.9C81.9 730.9 84.2 734.8 84.5 737.6C84.9 740.4 82.7 746.2 82.3 748.0" fill="none" stroke="#141414" stroke-width="2.00" stroke-linecap="round" stroke-linejoin="round" />
<path d="M119.2 635.2C118.8 636.9 116.8 642.5 117.1 645.3C117.4 648.1 119.5 651.8 121.2 651.8C122.9 651.8 125.8 648.3 127.1 645.3C128.4 642.3 129.5 637.5 129.1 633.7C128.8 630.0 127.5 625.5 125.0 622.9C122.6 620.2 117.9 617.3 114.5 617.8C111.0 618.3 106.5 621.9 104.2 625.8C101.9 629.6 101.0 635.8 100.7 641.0C100.4 646.1 97.5 643.1 102.2 656.9C106.8 670.6 123.9 709.7 128.5 723.4C133.2 737.2 130.3 734.2 130.0 739.3C129.7 744.5 128.8 750.7 126.5 754.5C124.2 758.4 119.7 762.0 116.2 762.5C112.8 763.0 108.1 760.1 105.7 757.4C103.2 754.8 101.9 750.3 101.6 746.6C101.2 742.8 102.3 738.0 103.6 735.0C104.9 732.0 107.8 728.5 109.5 728.5C111.2 728.5 113.3 732.2 113.6 735.0C113.9 737.8 111.9 743.4 111.5 745.1" fill="none" stroke="#141414" stroke-width="2.00" stroke-linecap="round" stroke-linejoin="round" />
<path d="M65.2 783.3C65.0 785.1 63.4 790.9 63.7 793.8C63.9 796.7 65.5 800.6 66.8 800.6C68.1 800.6 70.3 796.9 71.3 793.8C72.4 790.7 73.2 785.7 72.9 781.8C72.7 777.9 71.6 773.3 69.8 770.6C67.9 767.8 64.3 764.8 61.6 765.3C58.9 765.8 55.5 769.6 53.7 773.6C51.9 777.6 51.3 783.9 51.0 789.3C50.7 794.7 48.6 791.6 52.1 805.8C55.7 820.1 68.9 860.6 72.5 874.9C76.0 889.1 73.9 886.0 73.6 891.4C73.3 896.8 72.7 903.1 70.9 907.1C69.1 911.1 65.7 914.9 63.0 915.4C60.3 915.9 56.7 912.9 54.8 910.1C53.0 907.4 51.9 902.8 51.7 898.9C51.4 895.0 52.2 890.0 53.3 886.9C54.3 883.8 56.5 880.1 57.8 880.1C59.1 880.1 60.7 884.0 60.9 886.9C61.2 889.8 59.6 895.6 59.4 897.4" fill="none" stroke="#141414" stroke-width="2.00" stroke-linecap="round" stroke-linejoin="round" />
<path d="M90.1 783.0C89.8 784.7 87.8 790.5 88.1 793.3C88.4 796.1 90.5 799.9 92.1 799.9C93.7 799.9 96.5 796.4 97.8 793.3C99.0 790.2 100.1 785.3 99.7 781.5C99.4 777.7 98.1 773.2 95.8 770.5C93.4 767.8 88.9 764.8 85.5 765.3C82.2 765.8 77.8 769.5 75.6 773.4C73.4 777.3 72.5 783.6 72.2 788.9C71.9 794.1 69.1 791.1 73.6 805.1C78.1 819.1 94.7 858.8 99.2 872.8C103.7 886.8 100.9 883.8 100.6 889.0C100.3 894.3 99.4 900.6 97.2 904.5C95.0 908.4 90.6 912.1 87.3 912.6C83.9 913.1 79.4 910.1 77.0 907.4C74.7 904.7 73.4 900.2 73.1 896.4C72.7 892.6 73.8 887.7 75.0 884.6C76.3 881.5 79.1 878.0 80.7 878.0C82.3 878.0 84.4 881.8 84.7 884.6C85.0 887.4 83.0 893.2 82.7 894.9" fill="none" stroke="#141414" stroke-width="2.00" stroke-linecap="round" stroke-linejoin="round" />
<path d="M117.9 782.5C117.6 784.1 115.5 789.7 115.8 792.5C116.1 795.2 118.3 798.9 120.0 798.9C121.7 798.9 124.7 795.5 126.0 792.5C127.3 789.5 128.4 784.7 128.1 781.0C127.8 777.3 126.4 772.9 123.9 770.3C121.4 767.7 116.6 764.8 113.1 765.3C109.5 765.8 104.9 769.4 102.6 773.2C100.2 777.0 99.3 783.1 99.0 788.2C98.7 793.3 95.8 790.3 100.5 803.9C105.2 817.5 122.8 856.2 127.5 869.8C132.2 883.4 129.3 880.4 129.0 885.5C128.7 890.6 127.8 896.7 125.4 900.5C123.1 904.3 118.5 907.9 114.9 908.4C111.4 908.9 106.6 906.0 104.1 903.4C101.6 900.8 100.2 896.4 99.9 892.7C99.6 889.0 100.7 884.2 102.0 881.2C103.3 878.2 106.3 874.8 108.0 874.8C109.7 874.8 111.9 878.5 112.2 881.2C112.5 884.0 110.4 889.6 110.1 891.2" fill="none" stroke="#141414" stroke-width="2.00" stroke-linecap="round" stroke-linejoin="round" />
<path d="M64.6 991.7C64.4 993.4 63.4 999.0 63.6 1001.7C63.7 1004.5 64.8 1008.2 65.6 1008.2C66.4 1008.2 67.9 1004.7 68.5 1001.7C69.2 998.7 69.7 994.0 69.6 990.3C69.4 986.6 68.7 982.1 67.5 979.5C66.3 976.9 64.0 974.0 62.3 974.5C60.5 975.0 58.3 978.6 57.2 982.4C56.0 986.2 55.6 992.3 55.4 997.4C55.2 1002.6 53.8 999.6 56.1 1013.2C58.4 1026.8 67.0 1065.5 69.3 1079.1C71.6 1092.7 70.2 1089.7 70.0 1094.9C69.8 1100.0 69.4 1106.1 68.2 1109.9C67.1 1113.7 64.9 1117.3 63.1 1117.8C61.4 1118.3 59.1 1115.4 57.9 1112.8C56.7 1110.2 56.0 1105.7 55.8 1102.0C55.7 1098.3 56.2 1093.6 56.9 1090.6C57.5 1087.6 59.0 1084.1 59.8 1084.1C60.6 1084.1 61.7 1087.8 61.8 1090.6C62.0 1093.3 61.0 1098.9 60.8 1100.6" fill="none" stroke="#141414" stroke-width="2.00" stroke-linecap="round" stroke-linejoin="round" />
<path d="M87.5 986.8C87.1 988.5 85.2 994.1 85.5 996.8C85.8 999.6 87.8 1003.3 89.4 1003.3C91.0 1003.3 93.7 999.8 94.9 996.8C96.2 993.9 97.2 989.1 96.9 985.4C96.5 981.7 95.3 977.2 93.0 974.6C90.7 972.0 86.3 969.1 83.0 969.6C79.7 970.1 75.5 973.7 73.3 977.5C71.2 981.3 70.3 987.4 70.0 992.5C69.7 997.7 67.0 994.7 71.4 1008.3C75.8 1021.9 91.9 1060.7 96.3 1074.3C100.7 1087.9 98.0 1084.9 97.7 1090.1C97.4 1095.2 96.5 1101.3 94.4 1105.1C92.2 1108.9 88.0 1112.5 84.7 1113.0C81.4 1113.5 77.0 1110.6 74.7 1108.0C72.4 1105.4 71.2 1100.9 70.8 1097.2C70.5 1093.5 71.5 1088.7 72.8 1085.8C74.0 1082.8 76.7 1079.3 78.3 1079.3C79.9 1079.3 81.9 1083.0 82.2 1085.8C82.5 1088.5 80.6 1094.1 80.2 1095.8" fill="none" stroke="#141414" stroke-width="2.00" stroke-linecap="round" stroke-linejoin="round" />
<path d="M115.2 980.0C114.8 981.7 112.9 987.2 113.2 989.9C113.5 992.7 115.5 996.3 117.1 996.3C118.7 996.3 121.4 992.9 122.6 989.9C123.9 987.0 124.9 982.3 124.6 978.6C124.2 974.9 123.0 970.6 120.7 968.0C118.4 965.4 114.0 962.5 110.7 963.0C107.4 963.5 103.2 967.0 101.0 970.8C98.9 974.6 98.0 980.6 97.7 985.7C97.4 990.8 94.7 987.8 99.1 1001.3C103.5 1014.8 119.6 1053.0 124.0 1066.5C128.4 1080.0 125.7 1077.0 125.4 1082.1C125.1 1087.2 124.2 1093.2 122.1 1097.0C119.9 1100.8 115.7 1104.3 112.4 1104.8C109.1 1105.3 104.7 1102.4 102.4 1099.8C100.1 1097.2 98.9 1092.9 98.5 1089.2C98.2 1085.5 99.2 1080.8 100.5 1077.9C101.7 1074.9 104.4 1071.5 106.0 1071.5C107.6 1071.5 109.6 1075.1 109.9 1077.9C110.2 1080.6 108.3 1086.1 107.9 1087.8" fill="none" stroke="#141414" stroke-width="2.00" stroke-linecap="round" stroke-linejoin="round" />
<path d="M64.6 1134.6C64.4 1136.2 63.4 1141.7 63.6 1144.4C63.7 1147.1 64.8 1150.7 65.6 1150.7C66.4 1150.7 67.9 1147.3 68.5 1144.4C69.2 1141.5 69.7 1136.8 69.6 1133.2C69.4 1129.6 68.7 1125.3 67.5 1122.7C66.3 1120.1 64.0 1117.3 62.3 1117.8C60.5 1118.3 58.3 1121.8 57.2 1125.5C56.0 1129.2 55.6 1135.2 55.4 1140.2C55.2 1145.2 53.8 1142.3 56.1 1155.6C58.4 1168.9 67.0 1206.8 69.3 1220.1C71.6 1233.4 70.2 1230.5 70.0 1235.5C69.8 1240.5 69.4 1246.5 68.2 1250.2C67.1 1253.9 64.9 1257.4 63.1 1257.9C61.4 1258.4 59.1 1255.6 57.9 1253.0C56.7 1250.4 56.0 1246.1 55.8 1242.5C55.7 1238.9 56.2 1234.2 56.9 1231.3C57.5 1228.4 59.0 1225.0 59.8 1225.0C60.6 1225.0 61.7 1228.6 61.8 1231.3C62.0 1234.0 61.0 1239.5 60.8 1241.1" fill="none" stroke="#141414" stroke-width="2.00" stroke-linecap="round" stroke-linejoin="round" />
<path d="M87.5 1129.6C87.1 1131.2 85.2 1136.6 85.5 1139.2C85.8 1141.9 87.8 1145.4 89.4 1145.4C91.0 1145.4 93.7 1142.1 94.9 1139.2C96.2 1136.3 97.2 1131.7 96.9 1128.2C96.5 1124.6 95.3 1120.4 93.0 1117.8C90.7 1115.3 86.3 1112.5 83.0 1113.0C79.7 1113.5 75.5 1116.9 73.3 1120.6C71.2 1124.3 70.3 1130.1 70.0 1135.1C69.7 1140.0 67.0 1137.2 71.4 1150.3C75.8 1163.4 91.9 1200.6 96.3 1213.7C100.7 1226.8 98.0 1224.0 97.7 1228.9C97.4 1233.9 96.5 1239.7 94.4 1243.4C92.2 1247.1 88.0 1250.5 84.7 1251.0C81.4 1251.5 77.0 1248.7 74.7 1246.2C72.4 1243.6 71.2 1239.4 70.8 1235.8C70.5 1232.3 71.5 1227.7 72.8 1224.8C74.0 1221.9 76.7 1218.6 78.3 1218.6C79.9 1218.6 81.9 1222.1 82.2 1224.8C82.5 1227.4 80.6 1232.8 80.2 1234.4" fill="none" stroke="#141414" stroke-width="2.00" stroke-linecap="round" stroke-linejoin="round" />
<path d="M115.2 1121.0C114.8 1122.6 112.9 1127.9 113.2 1130.5C113.5 1133.1 115.5 1136.6 117.1 1136.6C118.7 1136.6 121.4 1133.3 122.6 1130.5C123.9 1127.7 124.9 1123.2 124.6 1119.7C124.2 1116.2 123.0 1112.0 120.7 1109.5C118.4 1107.1 114.0 1104.3 110.7 1104.8C107.4 1105.3 103.2 1108.6 101.0 1112.2C98.9 1115.8 98.0 1121.6 97.7 1126.4C97.4 1131.3 94.7 1128.5 99.1 1141.3C103.5 1154.1 119.6 1190.7 124.0 1203.5C128.4 1216.3 125.7 1213.5 125.4 1218.4C125.1 1223.2 124.2 1229.0 122.1 1232.6C119.9 1236.2 115.7 1239.5 112.4 1240.0C109.1 1240.5 104.7 1237.7 102.4 1235.3C100.1 1232.8 98.9 1228.6 98.5 1225.1C98.2 1221.6 99.2 1217.1 100.5 1214.3C101.7 1211.5 104.4 1208.2 106.0 1208.2C107.6 1208.2 109.6 1211.7 109.9 1214.3C110.2 1216.9 108.3 1222.2 107.9 1223.8" fill="none" stroke="#141414" stroke-width="2.00" stroke-linecap="round" stroke-linejoin="round" />
<path d="M40.7 635.4C39.6 635.5 35.7 634.7 34.1 635.8C32.5 637.0 30.6 640.0 31.1 642.1C31.6 644.1 34.8 648.0 37.0 648.1C39.3 648.2 43.1 646.0 44.8 642.7C46.5 639.4 47.7 632.5 47.2 628.4C46.7 624.3 44.3 620.4 41.9 618.1C39.4 615.7 35.7 614.2 32.3 614.3C28.9 614.4 24.4 616.3 21.5 618.9C18.7 621.4 16.2 625.9 15.0 629.8C13.8 633.6 13.7 637.3 14.4 642.1C15.1 646.8 14.6 645.3 19.1 658.4C23.7 671.6 37.3 708.1 41.9 721.3C46.4 734.4 45.9 732.9 46.6 737.6C47.3 742.4 47.2 746.1 46.0 749.9C44.8 753.8 42.3 758.3 39.5 760.8C36.6 763.4 32.1 765.3 28.7 765.4C25.3 765.5 21.6 764.0 19.1 761.6C16.7 759.3 14.3 755.4 13.8 751.3C13.3 747.2 14.5 740.3 16.2 737.0C17.9 733.7 21.7 731.5 24.0 731.6C26.2 731.7 29.4 735.6 29.9 737.6C30.4 739.7 28.5 742.7 26.9 743.9C25.3 745.0 21.4 744.2 20.3 744.3" fill="none" stroke="#141414" stroke-width="2.00" stroke-linecap="round" stroke-linejoin="round" />
<path d="M42.2 641.4C41.1 641.5 37.2 640.7 35.6 641.8C34.0 643.0 32.1 646.0 32.6 648.1C33.1 650.1 36.3 654.0 38.5 654.1C40.8 654.2 44.6 652.0 46.3 648.7C48.0 645.4 49.2 638.5 48.7 634.4C48.2 630.3 45.8 626.4 43.4 624.1C40.9 621.7 37.2 620.2 33.8 620.3C30.4 620.4 25.9 622.3 23.0 624.9C20.2 627.4 17.7 631.9 16.5 635.8C15.3 639.6 15.2 643.3 15.9 648.1C16.6 652.8 16.1 651.3 20.6 664.4C25.2 677.6 38.8 714.1 43.4 727.3C47.9 740.4 47.4 738.9 48.1 743.6C48.8 748.4 48.7 752.1 47.5 755.9C46.3 759.8 43.8 764.3 41.0 766.8C38.1 769.4 33.6 771.3 30.2 771.4C26.8 771.5 23.1 770.0 20.6 767.6C18.2 765.3 15.8 761.4 15.3 757.3C14.8 753.2 16.0 746.3 17.7 743.0C19.4 739.7 23.2 737.5 25.5 737.6C27.7 737.7 30.9 741.6 31.4 743.6C31.9 745.7 30.0 748.7 28.4 749.9C26.8 751.0 22.9 750.2 21.8 750.3" fill="none" stroke="#141414" stroke-width="1.20" stroke-linecap="round" stroke-linejoin="round" />
<path d="M40.7 787.2C39.6 787.3 35.7 786.5 34.1 787.6C32.5 788.7 30.6 791.8 31.1 793.9C31.6 795.9 34.8 799.9 37.0 800.0C39.3 800.1 43.1 797.8 44.8 794.5C46.5 791.2 47.7 784.3 47.2 780.2C46.7 776.1 44.3 772.2 41.9 769.8C39.4 767.5 35.7 765.9 32.3 766.0C28.9 766.1 24.4 768.0 21.5 770.6C18.7 773.2 16.2 777.7 15.0 781.5C13.8 785.4 13.7 789.1 14.4 793.9C15.1 798.7 14.6 797.1 19.1 810.3C23.7 823.6 37.3 860.1 41.9 873.4C46.4 886.6 45.9 885.0 46.6 889.8C47.3 894.6 47.2 898.3 46.0 902.2C44.8 906.0 42.3 910.5 39.5 913.1C36.6 915.7 32.1 917.6 28.7 917.7C25.3 917.8 21.6 916.2 19.1 913.9C16.7 911.5 14.3 907.6 13.8 903.5C13.3 899.4 14.5 892.5 16.2 889.2C17.9 885.9 21.7 883.6 24.0 883.7C26.2 883.8 29.4 887.8 29.9 889.8C30.4 891.9 28.5 895.0 26.9 896.1C25.3 897.2 21.4 896.4 20.3 896.5" fill="none" stroke="#141414" stroke-width="2.00" stroke-linecap="round" stroke-linejoin="round" />
<path d="M42.2 793.2C41.1 793.3 37.2 792.5 35.6 793.6C34.0 794.7 32.1 797.8 32.6 799.9C33.1 801.9 36.3 805.9 38.5 806.0C40.8 806.1 44.6 803.8 46.3 800.5C48.0 797.2 49.2 790.3 48.7 786.2C48.2 782.1 45.8 778.2 43.4 775.8C40.9 773.5 37.2 771.9 33.8 772.0C30.4 772.1 25.9 774.0 23.0 776.6C20.2 779.2 17.7 783.7 16.5 787.5C15.3 791.4 15.2 795.1 15.9 799.9C16.6 804.7 16.1 803.1 20.6 816.3C25.2 829.6 38.8 866.1 43.4 879.4C47.9 892.6 47.4 891.0 48.1 895.8C48.8 900.6 48.7 904.3 47.5 908.2C46.3 912.0 43.8 916.5 41.0 919.1C38.1 921.7 33.6 923.6 30.2 923.7C26.8 923.8 23.1 922.2 20.6 919.9C18.2 917.5 15.8 913.6 15.3 909.5C14.8 905.4 16.0 898.5 17.7 895.2C19.4 891.9 23.2 889.6 25.5 889.7C27.7 889.8 30.9 893.8 31.4 895.8C31.9 897.9 30.0 901.0 28.4 902.1C26.8 903.2 22.9 902.4 21.8 902.5" fill="none" stroke="#141414" stroke-width="1.20" stroke-linecap="round" stroke-linejoin="round" />
<path d="M40.4 997.3C39.3 997.4 35.4 996.7 33.8 997.7C32.2 998.8 30.4 1001.7 30.9 1003.6C31.3 1005.6 34.5 1009.3 36.8 1009.4C39.1 1009.5 42.9 1007.3 44.6 1004.2C46.3 1001.1 47.5 994.6 47.0 990.7C46.5 986.8 44.1 983.1 41.6 980.9C39.1 978.7 35.5 977.2 32.1 977.3C28.7 977.4 24.2 979.2 21.3 981.6C18.4 984.1 15.9 988.3 14.7 992.0C13.5 995.6 13.4 999.1 14.1 1003.6C14.8 1008.2 14.3 1006.7 18.9 1019.2C23.4 1031.7 37.1 1066.3 41.6 1078.8C46.2 1091.3 45.7 1089.8 46.4 1094.4C47.1 1098.9 47.0 1102.4 45.8 1106.0C44.6 1109.7 42.1 1113.9 39.2 1116.4C36.3 1118.8 31.8 1120.6 28.4 1120.7C25.0 1120.8 21.4 1119.3 18.9 1117.1C16.4 1114.9 14.0 1111.2 13.5 1107.3C13.0 1103.4 14.2 1096.9 15.9 1093.8C17.6 1090.7 21.4 1088.5 23.7 1088.6C26.0 1088.7 29.2 1092.4 29.6 1094.4C30.1 1096.3 28.3 1099.2 26.7 1100.3C25.1 1101.3 21.2 1100.6 20.1 1100.7" fill="none" stroke="#141414" stroke-width="2.00" stroke-linecap="round" stroke-linejoin="round" />
<path d="M20.1 997.3C21.2 997.4 25.1 996.7 26.7 997.7C28.3 998.8 30.1 1001.7 29.6 1003.6C29.2 1005.6 26.0 1009.3 23.7 1009.4C21.4 1009.5 17.6 1007.3 15.9 1004.2C14.2 1001.1 13.0 994.6 13.5 990.7C14.0 986.8 16.4 983.1 18.9 980.9C21.4 978.7 25.0 977.2 28.4 977.3C31.8 977.4 36.3 979.2 39.2 981.6C42.1 984.1 44.6 988.3 45.8 992.0C47.0 995.6 47.1 999.1 46.4 1003.6C45.7 1008.2 46.2 1006.7 41.6 1019.2C37.1 1031.7 23.4 1066.3 18.9 1078.8C14.3 1091.3 14.8 1089.8 14.1 1094.4C13.4 1098.9 13.5 1102.4 14.7 1106.0C15.9 1109.7 18.4 1113.9 21.3 1116.4C24.2 1118.8 28.7 1120.6 32.1 1120.7C35.5 1120.8 39.1 1119.3 41.6 1117.1C44.1 1114.9 46.5 1111.2 47.0 1107.3C47.5 1103.4 46.3 1096.9 44.6 1093.8C42.9 1090.7 39.1 1088.5 36.8 1088.6C34.5 1088.7 31.3 1092.4 30.9 1094.4C30.4 1096.3 32.2 1099.2 33.8 1100.3C35.4 1101.3 39.3 1100.6 40.4 1100.7" fill="none" stroke="#141414" stroke-width="1.30" stroke-linecap="round" stroke-linejoin="round" />
<path d="M40.4 1142.9C39.3 1142.9 35.4 1142.2 33.8 1143.3C32.2 1144.5 30.4 1147.6 30.9 1149.7C31.3 1151.8 34.5 1155.8 36.8 1155.9C39.1 1156.0 42.9 1153.7 44.6 1150.3C46.3 1146.9 47.5 1139.9 47.0 1135.7C46.5 1131.5 44.1 1127.6 41.6 1125.2C39.1 1122.8 35.5 1121.2 32.1 1121.3C28.7 1121.4 24.2 1123.3 21.3 1126.0C18.4 1128.6 15.9 1133.2 14.7 1137.1C13.5 1141.1 13.4 1144.8 14.1 1149.7C14.8 1154.6 14.3 1152.9 18.9 1166.4C23.4 1179.9 37.1 1217.1 41.6 1230.6C46.2 1244.1 45.7 1242.4 46.4 1247.3C47.1 1252.2 47.0 1255.9 45.8 1259.9C44.6 1263.8 42.1 1268.4 39.2 1271.0C36.3 1273.7 31.8 1275.6 28.4 1275.7C25.0 1275.8 21.4 1274.2 18.9 1271.8C16.4 1269.4 14.0 1265.5 13.5 1261.3C13.0 1257.1 14.2 1250.1 15.9 1246.7C17.6 1243.3 21.4 1241.0 23.7 1241.1C26.0 1241.2 29.2 1245.2 29.6 1247.3C30.1 1249.4 28.3 1252.5 26.7 1253.7C25.1 1254.8 21.2 1254.1 20.1 1254.1" fill="none" stroke="#141414" stroke-width="2.00" stroke-linecap="round" stroke-linejoin="round" />
<path d="M20.1 1142.9C21.2 1142.9 25.1 1142.2 26.7 1143.3C28.3 1144.5 30.1 1147.6 29.6 1149.7C29.2 1151.8 26.0 1155.8 23.7 1155.9C21.4 1156.0 17.6 1153.7 15.9 1150.3C14.2 1146.9 13.0 1139.9 13.5 1135.7C14.0 1131.5 16.4 1127.6 18.9 1125.2C21.4 1122.8 25.0 1121.2 28.4 1121.3C31.8 1121.4 36.3 1123.3 39.2 1126.0C42.1 1128.6 44.6 1133.2 45.8 1137.1C47.0 1141.1 47.1 1144.8 46.4 1149.7C45.7 1154.6 46.2 1152.9 41.6 1166.4C37.1 1179.9 23.4 1217.1 18.9 1230.6C14.3 1244.1 14.8 1242.4 14.1 1247.3C13.4 1252.2 13.5 1255.9 14.7 1259.9C15.9 1263.8 18.4 1268.4 21.3 1271.0C24.2 1273.7 28.7 1275.6 32.1 1275.7C35.5 1275.8 39.1 1274.2 41.6 1271.8C44.1 1269.4 46.5 1265.5 47.0 1261.3C47.5 1257.1 46.3 1250.1 44.6 1246.7C42.9 1243.3 39.1 1241.0 36.8 1241.1C34.5 1241.2 31.3 1245.2 30.9 1247.3C30.4 1249.4 32.2 1252.5 33.8 1253.7C35.4 1254.8 39.3 1254.1 40.4 1254.1" fill="none" stroke="#141414" stroke-width="1.30" stroke-linecap="round" stroke-linejoin="round" />
<path d="M36.5 542.2C36.4 540.8 35.0 536.0 35.7 533.7C36.4 531.4 38.9 528.8 40.8 528.6C42.6 528.5 45.5 530.6 46.7 532.9C48.0 535.1 49.1 539.0 48.4 542.2C47.7 545.5 45.2 549.9 42.5 552.4C39.8 555.0 35.7 557.5 32.3 557.5C28.9 557.5 24.8 555.2 22.1 552.4C19.4 549.6 17.1 545.0 16.1 540.5C15.2 536.0 15.2 529.7 16.1 525.2C17.1 520.7 19.1 517.0 22.1 513.3C25.1 509.6 29.7 506.5 34.0 503.1C38.2 499.7 43.6 496.3 47.6 492.9C51.5 489.5 55.1 486.4 57.8 482.7C60.5 479.1 62.9 474.8 63.7 470.8C64.6 466.9 64.1 462.6 62.9 458.9C61.6 455.3 58.9 451.2 56.1 448.8C53.2 446.3 49.1 444.6 45.9 444.5C42.6 444.4 38.9 445.8 36.5 447.9C34.1 450.0 32.0 454.3 31.4 457.2C30.9 460.2 31.9 463.6 33.1 465.7C34.4 467.9 37.2 470.0 39.1 470.0C40.9 470.0 43.2 467.9 44.2 465.7C45.2 463.6 44.9 458.7 45.0 457.2" fill="none" stroke="#141414" stroke-width="2.00" stroke-linecap="round" stroke-linejoin="round" />
<path d="M73.1 438.6C73.4 437.1 73.5 431.9 74.8 430.1C76.0 428.2 79.0 426.9 80.7 427.5C82.4 428.1 84.5 431.1 85.0 433.5C85.4 435.9 85.0 439.4 83.3 442.0C81.6 444.5 77.9 447.6 74.8 448.8C71.7 449.9 67.7 450.2 64.6 448.8C61.5 447.3 57.9 443.9 56.1 440.3C54.2 436.6 53.1 431.5 53.5 426.7C54.0 421.8 56.2 415.3 58.6 411.4C61.0 407.4 64.4 404.7 68.0 402.9C71.5 401.0 75.3 400.3 79.9 400.3C84.4 400.3 90.3 402.0 95.2 402.9C100.0 403.7 104.8 405.4 108.8 405.4C112.7 405.4 115.8 404.7 118.9 402.9C122.1 401.0 125.3 397.8 127.4 394.4C129.6 391.0 131.1 386.7 131.7 382.5C132.3 378.2 132.1 372.7 130.8 368.9C129.6 365.1 126.3 361.5 124.0 359.5C121.8 357.6 119.5 356.7 117.2 357.0C115.0 357.3 112.4 359.4 110.5 361.2C108.5 363.1 106.2 366.9 105.4 368.0" fill="none" stroke="#141414" stroke-width="2.00" stroke-linecap="round" stroke-linejoin="round" />
<path d="M113.8 367.2C113.9 368.7 114.1 374.6 114.2 376.0" fill="none" stroke="#141414" stroke-width="2.00" stroke-linecap="round" stroke-linejoin="round" />
<path d="M214.2 317.4C213.2 318.9 210.4 325.7 208.5 326.5C206.6 327.2 203.6 324.0 202.9 321.9C202.1 319.9 202.1 316.1 204.0 314.0C205.9 311.9 210.4 309.5 214.2 309.5C218.0 309.5 223.6 311.0 226.7 314.0C229.7 317.0 231.9 322.7 232.3 327.6C232.7 332.5 231.8 339.1 228.9 343.5C226.1 347.8 220.2 351.6 215.3 353.7C210.4 355.7 204.4 356.9 199.5 355.9C194.5 355.0 190.4 351.2 185.9 348.0C181.3 344.8 176.8 339.5 172.3 336.7C167.7 333.8 163.2 331.4 158.7 331.0C154.1 330.6 148.8 331.9 145.1 334.4C141.3 336.9 137.9 341.2 136.0 345.7C134.1 350.3 133.0 356.7 133.7 361.6C134.5 366.5 137.5 372.4 140.5 375.2C143.5 378.0 148.5 379.4 151.9 378.6C155.3 377.8 159.2 373.3 160.9 370.7C162.6 368.0 162.8 364.6 162.1 362.7C161.3 360.8 158.3 359.1 156.4 359.3C154.5 359.5 151.9 362.2 150.7 363.9C149.6 365.6 149.8 368.6 149.6 369.5" fill="none" stroke="#141414" stroke-width="2.00" stroke-linecap="round" stroke-linejoin="round" />
<path d="M312.1 317.4C313.6 318.4 318.2 323.0 320.9 323.3C323.6 323.5 327.2 321.2 328.3 318.9C329.4 316.5 329.2 311.9 327.5 309.3C325.8 306.8 322.3 304.0 318.0 303.5C313.7 303.0 305.5 303.0 301.9 306.4C298.2 309.8 296.2 318.4 296.0 324.0C295.8 329.6 296.7 335.7 300.4 340.1C304.1 344.5 312.6 349.2 318.0 350.4C323.4 351.6 327.8 349.8 332.7 347.5C337.6 345.1 342.9 340.4 347.3 336.5C351.7 332.6 357.1 326.1 359.1 324.0" fill="none" stroke="#141414" stroke-width="2.00" stroke-linecap="round" stroke-linejoin="round" />
<path d="M392.8 322.5C393.8 324.0 397.3 327.9 398.7 331.3C400.0 334.8 400.9 339.2 400.9 343.1C400.9 347.0 400.3 351.1 398.7 354.8C397.1 358.5 394.0 362.9 391.3 365.1C388.6 367.3 385.5 368.2 382.5 368.0C379.6 367.8 375.9 365.6 373.7 363.6C371.5 361.6 369.8 358.7 369.3 356.3C368.8 353.8 369.6 350.4 370.8 348.9C372.0 347.5 374.5 347.0 376.7 347.5C378.9 348.0 382.8 351.1 384.0 351.9" fill="none" stroke="#141414" stroke-width="2.00" stroke-linecap="round" stroke-linejoin="round" />
<path d="M420.6 353.5C421.6 355.0 424.1 361.4 426.6 362.4C429.1 363.4 433.7 361.6 435.5 359.5C437.3 357.3 438.5 352.9 437.5 349.6C436.5 346.3 433.2 341.3 429.6 339.6C425.9 338.0 420.0 338.0 415.7 339.6C411.4 341.3 406.3 345.3 403.8 349.6C401.3 353.8 400.5 360.5 400.8 365.4C401.1 370.4 403.0 375.3 405.8 379.3C408.6 383.3 413.4 387.2 417.7 389.2C422.0 391.2 426.6 391.7 431.5 391.2C436.5 390.7 442.1 387.7 447.4 386.2C452.7 384.7 458.0 382.4 463.3 382.3C468.5 382.1 474.5 382.8 479.1 385.2C483.7 387.7 488.5 392.5 491.0 397.1C493.5 401.8 494.3 407.7 494.0 413.0C493.6 418.3 491.8 424.9 489.0 428.8C486.2 432.8 481.1 435.8 477.1 436.8C473.2 437.8 468.5 436.8 465.2 434.8C461.9 432.8 458.5 428.2 457.3 424.9C456.1 421.6 457.0 416.9 458.3 415.0C459.6 413.0 463.1 412.0 465.2 413.0C467.4 414.0 470.2 419.6 471.2 420.9" fill="none" stroke="#141414" stroke-width="2.00" stroke-linecap="round" stroke-linejoin="round" />
<path d="M504.9 444.7C505.0 446.3 504.5 452.1 505.9 454.6C507.2 457.1 510.5 459.9 512.8 459.6C515.1 459.2 518.8 456.1 519.7 452.6C520.7 449.2 520.6 442.6 518.8 438.8C516.9 435.0 513.1 431.2 508.8 429.8C504.5 428.5 497.4 429.0 493.0 430.8C488.5 432.6 484.4 436.4 482.1 440.7C479.8 445.0 478.6 451.3 479.1 456.6C479.6 461.9 481.8 467.8 485.1 472.4C488.4 477.1 493.6 480.7 498.9 484.3C504.2 488.0 511.5 490.9 516.8 494.3C522.1 497.6 527.2 500.2 530.6 504.2C534.1 508.1 536.4 513.1 537.6 518.0C538.7 523.0 538.7 528.9 537.6 533.9C536.4 538.9 533.8 544.5 530.6 547.8C527.5 551.1 523.0 553.6 518.8 553.7C514.5 553.9 508.5 551.4 504.9 548.8C501.2 546.1 498.3 541.7 496.9 537.9C495.6 534.1 495.8 528.9 496.9 526.0C498.1 523.0 501.7 520.0 503.9 520.0C506.0 520.0 509.2 523.3 509.8 526.0C510.5 528.6 508.2 534.2 507.8 535.9" fill="none" stroke="#141414" stroke-width="2.00" stroke-linecap="round" stroke-linejoin="round" />
</g>
<g id="arch">
<path d="M135.5 574.0C135.7 570.0 135.7 559.0 136.5 550.0C137.3 541.0 138.4 530.0 140.5 520.0C142.6 510.0 145.5 500.0 149.0 490.0C152.5 480.0 157.8 467.8 161.5 460.0C165.2 452.2 166.8 449.7 171.0 443.0C175.2 436.3 181.5 427.4 187.0 419.9C192.5 412.4 198.3 404.8 204.0 398.0C209.7 391.2 215.0 384.7 221.0 379.0C227.0 373.3 234.0 368.5 240.0 364.0C246.0 359.5 251.2 355.5 257.0 352.0C262.8 348.5 268.3 346.0 275.0 343.0C281.7 340.0 289.5 336.8 297.0 334.0C304.5 331.2 311.5 328.5 320.0 326.0C328.5 323.5 338.7 320.9 348.0 319.0C357.3 317.1 368.7 315.3 376.0 314.5C383.3 313.7 386.3 313.8 392.0 314.0C397.7 314.2 402.1 314.2 410.0 315.5C417.9 316.8 428.0 319.0 439.5 321.8C451.0 324.6 465.8 327.4 479.0 332.5C492.2 337.6 508.5 346.9 518.7 352.5C528.9 358.1 532.7 361.0 540.0 366.0C547.3 371.0 556.4 377.3 562.6 382.6C568.8 387.9 572.4 392.6 577.0 398.0C581.6 403.4 585.0 406.9 590.3 415.2C595.5 423.5 603.4 436.9 608.5 447.8C613.6 458.7 617.4 469.5 620.7 480.3C624.0 491.1 626.5 502.0 628.1 512.9C629.7 523.8 629.8 536.6 630.2 545.5C630.6 554.4 630.4 562.6 630.4 566.0" fill="none" stroke="#1b1b1b" stroke-width="7.50" stroke-linecap="butt" stroke-linejoin="round" />
<path d="M8.5 566.0C8.8 559.5 8.8 539.2 10.2 527.0C11.6 514.8 13.9 504.3 17.0 493.0C20.1 481.7 24.6 469.5 28.9 459.0C33.2 448.5 38.2 438.5 42.9 430.0C47.6 421.5 52.0 414.8 56.9 408.0C61.8 401.2 67.6 395.0 72.3 389.3C77.0 383.6 78.7 380.2 85.0 374.0C91.3 367.8 100.2 359.3 110.0 352.0C119.8 344.7 134.7 335.4 143.7 330.0C152.7 324.6 156.3 323.1 164.0 319.8C171.7 316.5 182.9 312.7 190.0 310.3C197.1 307.9 200.4 307.2 206.7 305.7C213.0 304.2 222.4 302.4 228.0 301.3C233.6 300.2 234.3 299.9 240.0 299.2C245.7 298.5 253.3 297.5 262.0 297.0C270.7 296.5 282.0 295.8 292.0 296.0C302.0 296.2 314.0 297.3 322.0 298.0C330.0 298.7 334.0 299.2 340.0 300.2C346.0 301.2 351.9 302.5 358.0 304.0C364.1 305.5 369.0 306.7 376.7 309.3C384.4 311.9 396.8 316.4 404.0 319.5C411.2 322.6 415.7 325.3 420.0 327.7C424.3 330.1 426.7 331.7 430.0 333.8C433.3 335.9 435.4 337.2 440.0 340.5C444.6 343.8 451.8 349.0 457.6 353.6C463.4 358.2 469.3 362.9 475.0 368.0C480.7 373.1 485.7 377.2 491.7 384.5C497.7 391.8 505.7 404.4 511.0 412.0C516.3 419.6 519.4 422.1 523.3 430.0C527.2 437.9 531.4 449.8 534.4 459.7C537.4 469.6 539.6 479.6 541.3 489.5C543.0 499.4 544.0 509.3 544.8 519.2C545.5 529.1 545.6 541.9 545.8 549.0C546.0 556.1 545.8 559.8 545.8 562.0" fill="none" stroke="#1b1b1b" stroke-width="8.00" stroke-linecap="butt" stroke-linejoin="round" />
<path d="M52.7 566.0C53.1 559.5 53.5 539.2 55.2 527.0C56.9 514.8 60.8 500.8 62.9 493.0C65.0 485.2 65.1 486.4 68.1 480.0C71.1 473.6 76.0 463.0 81.1 454.7C86.2 446.4 92.6 437.8 98.9 430.0C105.2 422.2 111.7 414.8 118.9 408.0C126.1 401.2 135.5 394.0 142.3 389.3C149.2 384.6 154.1 382.9 160.0 380.0C165.9 377.1 171.3 374.8 178.0 372.0C184.7 369.2 194.2 365.1 200.0 363.0C205.8 360.9 207.1 360.6 212.6 359.3C218.1 358.0 225.0 356.0 233.0 355.0C241.0 354.0 254.4 353.6 260.6 353.5C266.8 353.4 263.7 354.3 270.0 354.5C276.3 354.7 288.9 353.9 298.3 354.5C307.8 355.1 317.2 356.5 326.7 358.2C336.1 359.9 345.6 361.9 355.0 364.7C364.4 367.4 373.9 370.5 383.3 374.7C392.8 378.9 403.9 384.6 411.7 389.6C419.5 394.7 423.9 399.1 430.0 405.0C436.1 410.9 443.4 419.0 448.4 425.0C453.4 431.0 456.1 435.2 460.0 441.0C463.9 446.8 467.9 451.6 471.7 459.7C475.5 467.8 479.9 479.6 482.6 489.5C485.3 499.4 486.8 509.3 488.1 519.2C489.4 529.1 490.1 541.9 490.6 549.0C491.1 556.1 490.9 559.8 491.0 562.0" fill="none" stroke="#1b1b1b" stroke-width="8.00" stroke-linecap="butt" stroke-linejoin="round" />
<rect x="255.5" y="293" width="18.5" height="63" fill="#1b1b1b"/>
<circle cx="254.8" cy="325.5" r="2.7" fill="#1b1b1b"/><circle cx="275.3" cy="324.8" r="2.7" fill="#1b1b1b"/>
<polygon points="273.0,299.0 322.0,299.0 380.0,313.0 380.0,323.0 340.0,314.0 273.0,305.0" fill="#1b1b1b"/>
<line x1="322.0" y1="303.4" x2="377.5" y2="315.0" stroke="#fff" stroke-width="1.60" stroke-linecap="butt"/>
<polygon points="88.0,368.5 204.0,388.5 204.0,396.5 86.0,377.0" fill="#1b1b1b"/>
<polygon points="460.4,351.3 536.8,367.9 552.5,379.9 477.9,364.2" fill="#1b1b1b"/>
<line x1="9.0" y1="563.0" x2="9.0" y2="1311.5" stroke="#1b1b1b" stroke-width="8.50" stroke-linecap="butt"/>
<line x1="52.5" y1="563.0" x2="51.5" y2="1318.0" stroke="#1b1b1b" stroke-width="9.00" stroke-linecap="butt"/>
<line x1="135.0" y1="570.0" x2="129.3" y2="1271.0" stroke="#1b1b1b" stroke-width="8.50" stroke-linecap="butt"/>
<line x1="490.5" y1="558.0" x2="491.0" y2="1401.0" stroke="#1b1b1b" stroke-width="9.30" stroke-linecap="butt"/>
<line x1="545.7" y1="558.0" x2="546.0" y2="1408.0" stroke="#1b1b1b" stroke-width="9.50" stroke-linecap="butt"/>
<line x1="628.5" y1="566.0" x2="627.2" y2="957.0" stroke="#1b1b1b" stroke-width="8.50" stroke-linecap="butt"/>
<line x1="627.2" y1="955.0" x2="621.5" y2="1349.0" stroke="#1b1b1b" stroke-width="8.50" stroke-linecap="butt"/>
<line x1="4.5" y1="569.0" x2="57.0" y2="569.0" stroke="#1b1b1b" stroke-width="15.50" stroke-linecap="butt"/>
<line x1="57.0" y1="572.0" x2="139.0" y2="577.0" stroke="#1b1b1b" stroke-width="13.50" stroke-linecap="butt"/>
<line x1="4.5" y1="930.5" x2="56.0" y2="930.5" stroke="#1b1b1b" stroke-width="16.00" stroke-linecap="butt"/>
<line x1="56.0" y1="929.0" x2="133.5" y2="915.0" stroke="#1b1b1b" stroke-width="11.50" stroke-linecap="butt"/>
<line x1="13.0" y1="1279.0" x2="47.0" y2="1287.0" stroke="#1b1b1b" stroke-width="7.00" stroke-linecap="butt"/>
<line x1="13.0" y1="1271.0" x2="47.5" y2="1258.0" stroke="#1b1b1b" stroke-width="4.50" stroke-linecap="butt"/>
<line x1="56.0" y1="1259.5" x2="125.4" y2="1237.0" stroke="#1b1b1b" stroke-width="8.00" stroke-linecap="butt"/>
<line x1="486.0" y1="565.3" x2="551.0" y2="565.3" stroke="#1b1b1b" stroke-width="17.00" stroke-linecap="butt"/>
<line x1="550.0" y1="566.5" x2="633.0" y2="575.5" stroke="#1b1b1b" stroke-width="16.50" stroke-linecap="butt"/>
<line x1="486.5" y1="972.5" x2="551.0" y2="972.5" stroke="#1b1b1b" stroke-width="15.00" stroke-linecap="butt"/>
<line x1="550.0" y1="970.5" x2="628.5" y2="951.3" stroke="#1b1b1b" stroke-width="15.50" stroke-linecap="butt"/>
<line x1="495.0" y1="1364.0" x2="541.0" y2="1370.0" stroke="#1b1b1b" stroke-width="8.00" stroke-linecap="butt"/>
<line x1="551.0" y1="1365.5" x2="618.0" y2="1318.5" stroke="#1b1b1b" stroke-width="10.00" stroke-linecap="butt"/>
<polygon points="56.0,1314.0 63.5,1312.0 63.5,1316.0 56.0,1318.0" fill="#1b1b1b"/>
<polygon points="133.5,1267.0 141.7,1266.0 141.7,1270.0 133.5,1271.0" fill="#1b1b1b"/>
<polygon points="495.0,1395.0 500.5,1392.6 500.5,1396.0 495.0,1398.0" fill="#1b1b1b"/>
<polygon points="602.8,1345.6 620.0,1346.5 620.0,1349.5 602.8,1348.0" fill="#1b1b1b"/>
<rect x="23.0" y="576.0" width="8.0" height="8.0" rx="1.5" fill="#1b1b1b"/>
<rect x="118.5" y="582.5" width="4.5" height="7.0" rx="1.5" fill="#1b1b1b"/>
<rect x="515.0" y="573.0" width="5.5" height="8.0" rx="1.5" fill="#1b1b1b"/>
<rect x="553.0" y="574.0" width="5.5" height="8.0" rx="1.5" fill="#1b1b1b"/>
<rect x="616.8" y="581.0" width="5.0" height="6.5" rx="1.5" fill="#1b1b1b"/>
<rect x="24.5" y="938.0" width="5.0" height="7.0" rx="1.5" fill="#1b1b1b"/>
<rect x="115.0" y="921.0" width="4.0" height="6.0" rx="1.5" fill="#1b1b1b"/>
<rect x="516.5" y="980.0" width="4.5" height="8.5" rx="1.5" fill="#1b1b1b"/>
<rect x="554.0" y="979.0" width="4.5" height="7.5" rx="1.5" fill="#1b1b1b"/>
<rect x="615.9" y="960.5" width="3.8" height="6.5" rx="1.5" fill="#1b1b1b"/>
<circle cx="4.5" cy="565" r="3.2" fill="#1b1b1b"/><circle cx="139.5" cy="573" r="2.5" fill="#1b1b1b"/>
</g>
</svg>
<div id="t1" class="t" style="top:-1.1px;font-size:68.0px;font-weight:bold;color:#20c4be;"><span style="left:76.65px;transform:scaleX(1.0243)">Stronger</span> <span style="left:382.84px;transform:scaleX(1.0325)">Load-bearing</span> <span style="left:842.30px;transform:scaleX(1.0009)">Garden</span> <span style="left:1098.72px;transform:scaleX(1.0567)">Metal</span> <span style="left:1295.35px;transform:scaleX(0.9758)">Arch</span></div>
<div id="t2" class="t" style="top:109.6px;font-size:49.5px;font-weight:normal;color:#2d2d2d;"><span style="left:170.22px;transform:scaleX(0.9756)">The</span> <span style="left:264.71px;transform:scaleX(1.0968)">lattice</span> <span style="left:417.21px;transform:scaleX(0.9290)">is</span> <span style="left:461.90px;transform:scaleX(1.0482)">suitable</span> <span style="left:653.02px;transform:scaleX(0.9821)">for</span> <span style="left:725.94px;transform:scaleX(1.1318)">all</span> <span style="left:793.12px;transform:scaleX(1.0270)">kinds</span> <span style="left:923.25px;transform:scaleX(1.0231)">of</span> <span style="left:977.33px;transform:scaleX(1.0835)">climbing</span> <span style="left:1184.34px;transform:scaleX(1.0522)">plants.</span></div>
<div id="l1a" class="t" style="top:679.9px;font-size:40.5px;font-weight:normal;color:#333;-webkit-text-stroke:0.25px #333;"><span style="left:704.40px;transform:scaleX(1.1000)">solid</span> <span style="left:806.59px;transform:scaleX(1.1351)">metal</span> <span style="left:930.00px;transform:scaleX(1.1029)">frame</span></div>
<div id="l1b" class="t" style="top:728.7px;font-size:40.5px;font-weight:normal;color:#333;-webkit-text-stroke:0.25px #333;"><span style="left:789.67px;transform:scaleX(1.1303)">structure</span></div>
<div id="l2a" class="t" style="top:679.7px;font-size:40.5px;font-weight:normal;color:#333;-webkit-text-stroke:0.25px #333;"><span style="left:1136.17px;transform:scaleX(1.1294)">shapely,</span> <span style="left:1307.40px;transform:scaleX(1.0992)">elegant</span></div>
<div id="l2b" class="t" style="top:728.4px;font-size:40.5px;font-weight:normal;color:#333;-webkit-text-stroke:0.25px #333;"><span style="left:1148.95px;transform:scaleX(1.1245)">patterns</span> <span style="left:1321.81px;transform:scaleX(1.0957)">design</span></div>
<div id="l3a" class="t" style="top:1237.7px;font-size:40.5px;font-weight:normal;color:#333;-webkit-text-stroke:0.25px #333;"><span style="left:715.54px;transform:scaleX(1.0533)">heavy</span> <span style="left:840.46px;transform:scaleX(1.1200)">duty</span> <span style="left:939.06px;transform:scaleX(1.1185)">powder</span></div>
<div id="l3b" class="t" style="top:1286.5px;font-size:40.5px;font-weight:normal;color:#333;-webkit-text-stroke:0.25px #333;"><span style="left:795.11px;transform:scaleX(1.0940)">coated</span> <span style="left:937.75px;transform:scaleX(1.1839)">iron</span></div>
<div id="l4a" class="t" style="top:1236.3px;font-size:40.5px;font-weight:normal;color:#333;-webkit-text-stroke:0.25px #333;"><span style="left:1154.76px;transform:scaleX(1.1215)">connecting</span> <span style="left:1382.53px;transform:scaleX(1.1338)">part</span></div>
</body></html>
